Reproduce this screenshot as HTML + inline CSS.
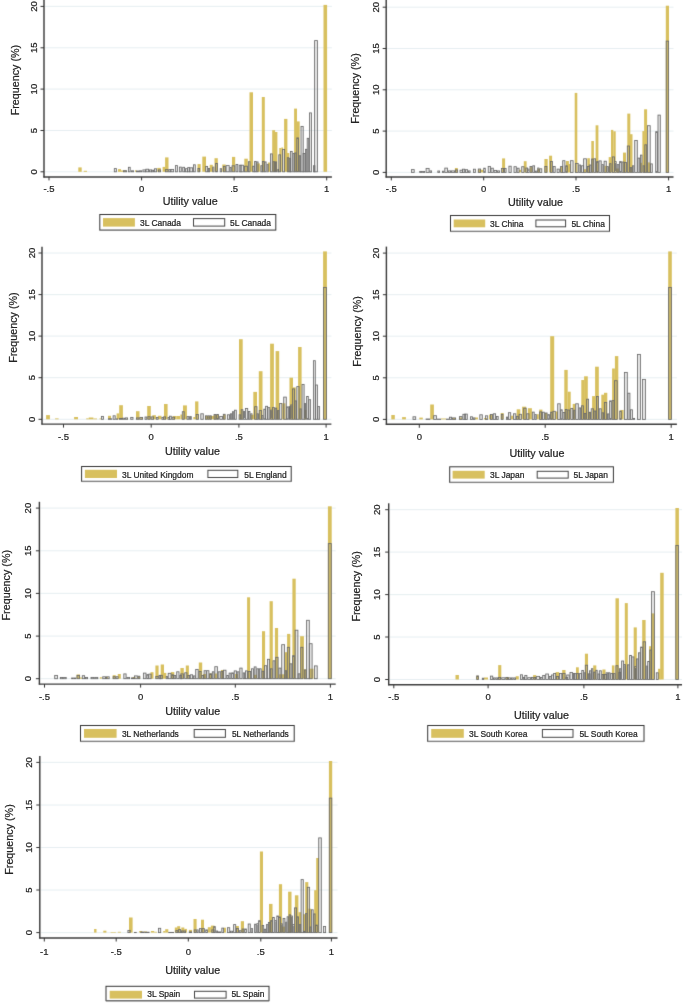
<!DOCTYPE html>
<html><head><meta charset="utf-8"><style>
html,body{margin:0;padding:0;background:#fff;width:685px;height:1003px;overflow:hidden}
svg{display:block;will-change:transform}
text{font-family:"Liberation Sans", sans-serif;stroke:#222;stroke-width:0.22px;paint-order:stroke}
</style></head><body>
<svg width="685" height="1003" viewBox="0 0 685 1003">
<defs><filter id="soft" x="0" y="0" width="685" height="1003" filterUnits="userSpaceOnUse" color-interpolation-filters="sRGB"><feConvolveMatrix order="3" kernelMatrix="0.0144 0.12 0.0144 0.12 1 0.12 0.0144 0.12 0.0144" divisor="1.5376" edgeMode="duplicate"/></filter></defs>
<rect width="685" height="1003" fill="#fff"/>
<g filter="url(#soft)">
<rect width="685" height="1003" fill="#fff"/>
<line x1="45.0" y1="171.8" x2="331.9" y2="171.8" stroke="#e3ecef" stroke-width="0.9"/>
<line x1="45.0" y1="130.5" x2="331.9" y2="130.5" stroke="#e3ecef" stroke-width="0.9"/>
<line x1="45.0" y1="89.1" x2="331.9" y2="89.1" stroke="#e3ecef" stroke-width="0.9"/>
<line x1="45.0" y1="47.8" x2="331.9" y2="47.8" stroke="#e3ecef" stroke-width="0.9"/>
<line x1="45.0" y1="6.4" x2="331.9" y2="6.4" stroke="#e3ecef" stroke-width="0.9"/>
<rect x="78.3" y="167.4" width="3.4" height="4.4" fill="#d8c05f"/>
<rect x="83.7" y="170.8" width="3.3" height="1.0" fill="#d8c05f"/>
<rect x="118.0" y="169.1" width="3.0" height="2.7" fill="#d8c05f"/>
<rect x="121.0" y="170.5" width="5.0" height="1.3" fill="#d8c05f"/>
<rect x="135.0" y="170.3" width="1.5" height="1.5" fill="#d8c05f"/>
<rect x="157.3" y="167.9" width="3.5" height="3.9" fill="#d8c05f"/>
<rect x="162.6" y="166.9" width="2.9" height="4.9" fill="#d8c05f"/>
<rect x="165.1" y="157.4" width="3.4" height="14.4" fill="#d8c05f"/>
<rect x="197.5" y="164.1" width="3.2" height="7.7" fill="#d8c05f"/>
<rect x="202.3" y="156.6" width="3.7" height="15.2" fill="#d8c05f"/>
<rect x="209.7" y="164.8" width="3.1" height="7.0" fill="#d8c05f"/>
<rect x="214.5" y="158.2" width="3.3" height="13.6" fill="#d8c05f"/>
<rect x="222.3" y="164.5" width="3.4" height="7.3" fill="#d8c05f"/>
<rect x="232.0" y="156.9" width="3.2" height="14.9" fill="#d8c05f"/>
<rect x="244.3" y="158.7" width="3.5" height="13.1" fill="#d8c05f"/>
<rect x="249.5" y="92.3" width="3.5" height="79.5" fill="#d8c05f"/>
<rect x="256.6" y="163.4" width="3.3" height="8.4" fill="#d8c05f"/>
<rect x="261.8" y="97.0" width="3.0" height="74.8" fill="#d8c05f"/>
<rect x="268.0" y="162.5" width="2.2" height="9.3" fill="#d8c05f"/>
<rect x="272.2" y="130.2" width="2.9" height="41.6" fill="#d8c05f"/>
<rect x="274.6" y="132.0" width="2.8" height="39.8" fill="#d8c05f"/>
<rect x="279.3" y="148.0" width="2.0" height="23.8" fill="#d8c05f"/>
<rect x="281.3" y="147.5" width="1.8" height="24.3" fill="#d8c05f"/>
<rect x="284.1" y="118.9" width="3.3" height="52.9" fill="#d8c05f"/>
<rect x="286.9" y="153.0" width="2.4" height="18.8" fill="#d8c05f"/>
<rect x="294.1" y="108.6" width="2.9" height="63.2" fill="#d8c05f"/>
<rect x="297.0" y="121.4" width="2.7" height="50.4" fill="#d8c05f"/>
<rect x="323.5" y="4.9" width="3.6" height="166.9" fill="#d8c05f"/>
<rect x="114.3" y="168.6" width="2.1" height="3.2" fill="rgba(140,140,140,0.22)" stroke="#6a6a6a" stroke-width="0.85"/>
<rect x="123.5" y="170.7" width="3.1" height="1.1" fill="rgba(140,140,140,0.22)" stroke="#6a6a6a" stroke-width="0.85"/>
<rect x="128.4" y="167.3" width="1.8" height="4.5" fill="rgba(140,140,140,0.22)" stroke="#6a6a6a" stroke-width="0.85"/>
<rect x="131.4" y="170.8" width="2.2" height="1.0" fill="rgba(140,140,140,0.22)" stroke="#6a6a6a" stroke-width="0.85"/>
<rect x="136.4" y="171.0" width="2.2" height="0.8" fill="rgba(140,140,140,0.22)" stroke="#6a6a6a" stroke-width="0.85"/>
<rect x="139.4" y="170.8" width="2.2" height="1.0" fill="rgba(140,140,140,0.22)" stroke="#6a6a6a" stroke-width="0.85"/>
<rect x="142.9" y="169.9" width="2.7" height="1.9" fill="rgba(140,140,140,0.22)" stroke="#6a6a6a" stroke-width="0.85"/>
<rect x="145.9" y="169.2" width="2.7" height="2.6" fill="rgba(140,140,140,0.22)" stroke="#6a6a6a" stroke-width="0.85"/>
<rect x="149.4" y="169.9" width="2.2" height="1.9" fill="rgba(140,140,140,0.22)" stroke="#6a6a6a" stroke-width="0.85"/>
<rect x="151.9" y="170.2" width="1.7" height="1.6" fill="rgba(140,140,140,0.22)" stroke="#6a6a6a" stroke-width="0.85"/>
<rect x="154.4" y="168.8" width="2.2" height="3.0" fill="rgba(140,140,140,0.22)" stroke="#6a6a6a" stroke-width="0.85"/>
<rect x="158.4" y="169.9" width="2.2" height="1.9" fill="rgba(140,140,140,0.22)" stroke="#6a6a6a" stroke-width="0.85"/>
<rect x="165.4" y="169.6" width="2.7" height="2.2" fill="rgba(140,140,140,0.22)" stroke="#6a6a6a" stroke-width="0.85"/>
<rect x="168.9" y="169.6" width="1.7" height="2.2" fill="rgba(140,140,140,0.22)" stroke="#6a6a6a" stroke-width="0.85"/>
<rect x="171.0" y="169.4" width="2.6" height="2.4" fill="rgba(140,140,140,0.22)" stroke="#6a6a6a" stroke-width="0.85"/>
<rect x="175.4" y="165.6" width="2.0" height="6.2" fill="rgba(140,140,140,0.22)" stroke="#6a6a6a" stroke-width="0.85"/>
<rect x="179.4" y="167.1" width="1.9" height="4.7" fill="rgba(140,140,140,0.22)" stroke="#6a6a6a" stroke-width="0.85"/>
<rect x="182.7" y="167.3" width="1.9" height="4.5" fill="rgba(140,140,140,0.22)" stroke="#6a6a6a" stroke-width="0.85"/>
<rect x="185.4" y="168.7" width="2.2" height="3.1" fill="rgba(140,140,140,0.22)" stroke="#6a6a6a" stroke-width="0.85"/>
<rect x="187.7" y="167.6" width="1.9" height="4.2" fill="rgba(140,140,140,0.22)" stroke="#6a6a6a" stroke-width="0.85"/>
<rect x="189.9" y="167.8" width="2.7" height="4.0" fill="rgba(140,140,140,0.22)" stroke="#6a6a6a" stroke-width="0.85"/>
<rect x="193.5" y="164.8" width="1.8" height="7.0" fill="rgba(140,140,140,0.22)" stroke="#6a6a6a" stroke-width="0.85"/>
<rect x="197.9" y="168.4" width="1.7" height="3.4" fill="rgba(140,140,140,0.22)" stroke="#6a6a6a" stroke-width="0.85"/>
<rect x="205.7" y="166.4" width="1.9" height="5.4" fill="rgba(140,140,140,0.22)" stroke="#6a6a6a" stroke-width="0.85"/>
<rect x="208.4" y="168.4" width="1.2" height="3.4" fill="rgba(140,140,140,0.22)" stroke="#6a6a6a" stroke-width="0.85"/>
<rect x="212.7" y="167.1" width="1.2" height="4.7" fill="rgba(140,140,140,0.22)" stroke="#6a6a6a" stroke-width="0.85"/>
<rect x="215.6" y="163.4" width="1.8" height="8.4" fill="rgba(140,140,140,0.22)" stroke="#6a6a6a" stroke-width="0.85"/>
<rect x="220.2" y="168.7" width="1.4" height="3.1" fill="rgba(140,140,140,0.22)" stroke="#6a6a6a" stroke-width="0.85"/>
<rect x="223.4" y="166.4" width="1.9" height="5.4" fill="rgba(140,140,140,0.22)" stroke="#6a6a6a" stroke-width="0.85"/>
<rect x="226.1" y="165.6" width="3.1" height="6.2" fill="rgba(140,140,140,0.22)" stroke="#6a6a6a" stroke-width="0.85"/>
<rect x="230.0" y="167.4" width="1.2" height="4.4" fill="rgba(140,140,140,0.22)" stroke="#6a6a6a" stroke-width="0.85"/>
<rect x="232.0" y="165.8" width="2.8" height="6.0" fill="rgba(140,140,140,0.22)" stroke="#6a6a6a" stroke-width="0.85"/>
<rect x="236.0" y="164.5" width="1.8" height="7.3" fill="rgba(140,140,140,0.22)" stroke="#6a6a6a" stroke-width="0.85"/>
<rect x="239.2" y="165.2" width="1.9" height="6.6" fill="rgba(140,140,140,0.22)" stroke="#6a6a6a" stroke-width="0.85"/>
<rect x="240.9" y="165.2" width="2.5" height="6.6" fill="rgba(140,140,140,0.22)" stroke="#6a6a6a" stroke-width="0.85"/>
<rect x="244.4" y="166.2" width="3.0" height="5.6" fill="rgba(140,140,140,0.22)" stroke="#6a6a6a" stroke-width="0.85"/>
<rect x="248.4" y="161.7" width="1.6" height="10.1" fill="rgba(140,140,140,0.22)" stroke="#6a6a6a" stroke-width="0.85"/>
<rect x="252.7" y="166.2" width="1.4" height="5.6" fill="rgba(140,140,140,0.22)" stroke="#6a6a6a" stroke-width="0.85"/>
<rect x="254.6" y="161.4" width="1.5" height="10.4" fill="rgba(140,140,140,0.22)" stroke="#6a6a6a" stroke-width="0.85"/>
<rect x="256.7" y="161.9" width="1.4" height="9.9" fill="rgba(140,140,140,0.22)" stroke="#6a6a6a" stroke-width="0.85"/>
<rect x="260.8" y="165.7" width="1.3" height="6.1" fill="rgba(140,140,140,0.22)" stroke="#6a6a6a" stroke-width="0.85"/>
<rect x="262.4" y="161.4" width="1.7" height="10.4" fill="rgba(140,140,140,0.22)" stroke="#6a6a6a" stroke-width="0.85"/>
<rect x="264.7" y="161.9" width="1.4" height="9.9" fill="rgba(140,140,140,0.22)" stroke="#6a6a6a" stroke-width="0.85"/>
<rect x="267.1" y="164.3" width="1.1" height="7.5" fill="rgba(140,140,140,0.22)" stroke="#6a6a6a" stroke-width="0.85"/>
<rect x="270.5" y="153.9" width="1.8" height="17.9" fill="rgba(140,140,140,0.22)" stroke="#6a6a6a" stroke-width="0.85"/>
<rect x="273.1" y="161.7" width="1.5" height="10.1" fill="rgba(140,140,140,0.22)" stroke="#6a6a6a" stroke-width="0.85"/>
<rect x="275.4" y="161.9" width="1.2" height="9.9" fill="rgba(140,140,140,0.22)" stroke="#6a6a6a" stroke-width="0.85"/>
<rect x="277.8" y="169.4" width="0.8" height="2.4" fill="rgba(140,140,140,0.22)" stroke="#6a6a6a" stroke-width="0.85"/>
<rect x="278.8" y="154.8" width="1.8" height="17.0" fill="rgba(140,140,140,0.22)" stroke="#6a6a6a" stroke-width="0.85"/>
<rect x="282.6" y="149.4" width="2.0" height="22.4" fill="rgba(140,140,140,0.22)" stroke="#6a6a6a" stroke-width="0.85"/>
<rect x="287.3" y="157.7" width="1.6" height="14.1" fill="rgba(140,140,140,0.22)" stroke="#6a6a6a" stroke-width="0.85"/>
<rect x="289.2" y="158.6" width="1.4" height="13.2" fill="rgba(140,140,140,0.22)" stroke="#6a6a6a" stroke-width="0.85"/>
<rect x="290.4" y="151.4" width="1.8" height="20.4" fill="rgba(140,140,140,0.22)" stroke="#6a6a6a" stroke-width="0.85"/>
<rect x="293.0" y="153.5" width="1.3" height="18.3" fill="rgba(140,140,140,0.22)" stroke="#6a6a6a" stroke-width="0.85"/>
<rect x="294.8" y="152.9" width="1.4" height="18.9" fill="rgba(140,140,140,0.22)" stroke="#6a6a6a" stroke-width="0.85"/>
<rect x="296.8" y="137.9" width="1.7" height="33.9" fill="rgba(140,140,140,0.22)" stroke="#6a6a6a" stroke-width="0.85"/>
<rect x="299.3" y="155.7" width="1.3" height="16.1" fill="rgba(140,140,140,0.22)" stroke="#6a6a6a" stroke-width="0.85"/>
<rect x="301.0" y="126.4" width="2.2" height="45.4" fill="rgba(140,140,140,0.22)" stroke="#6a6a6a" stroke-width="0.85"/>
<rect x="303.1" y="153.5" width="1.8" height="18.3" fill="rgba(140,140,140,0.22)" stroke="#6a6a6a" stroke-width="0.85"/>
<rect x="305.5" y="149.3" width="1.3" height="22.5" fill="rgba(140,140,140,0.22)" stroke="#6a6a6a" stroke-width="0.85"/>
<rect x="307.2" y="138.3" width="1.5" height="33.5" fill="rgba(140,140,140,0.22)" stroke="#6a6a6a" stroke-width="0.85"/>
<rect x="309.5" y="112.9" width="2.0" height="58.9" fill="rgba(140,140,140,0.22)" stroke="#6a6a6a" stroke-width="0.85"/>
<rect x="313.5" y="165.7" width="1.4" height="6.1" fill="rgba(140,140,140,0.22)" stroke="#6a6a6a" stroke-width="0.85"/>
<rect x="314.6" y="40.6" width="2.8" height="131.2" fill="rgba(140,140,140,0.22)" stroke="#6a6a6a" stroke-width="0.85"/>
<line x1="44.0" y1="0.0" x2="44.0" y2="177.4" stroke="#3c3c3c" stroke-width="1.45"/>
<line x1="40.5" y1="171.8" x2="44.0" y2="171.8" stroke="#333" stroke-width="1"/>
<line x1="40.5" y1="130.5" x2="44.0" y2="130.5" stroke="#333" stroke-width="1"/>
<line x1="40.5" y1="89.1" x2="44.0" y2="89.1" stroke="#333" stroke-width="1"/>
<line x1="40.5" y1="47.8" x2="44.0" y2="47.8" stroke="#333" stroke-width="1"/>
<line x1="40.5" y1="6.4" x2="44.0" y2="6.4" stroke="#333" stroke-width="1"/>
<line x1="43.4" y1="176.9" x2="331.9" y2="176.9" stroke="#3c3c3c" stroke-width="1.45"/>
<line x1="49.0" y1="176.9" x2="49.0" y2="180.4" stroke="#333" stroke-width="1"/>
<line x1="141.6" y1="176.9" x2="141.6" y2="180.4" stroke="#333" stroke-width="1"/>
<line x1="234.1" y1="176.9" x2="234.1" y2="180.4" stroke="#333" stroke-width="1"/>
<line x1="326.7" y1="176.9" x2="326.7" y2="180.4" stroke="#333" stroke-width="1"/>
<rect x="99.8" y="214.5" width="176.0" height="15.6" fill="#fff" stroke="#333" stroke-width="1"/>
<line x1="99.8" y1="230.4" x2="275.8" y2="230.4" stroke="#888" stroke-width="1"/>
<rect x="103.0" y="218.1" width="31.9" height="8.5" fill="#d8c05f"/>
<rect x="193.5" y="218.6" width="31.2" height="7.5" fill="#fff" stroke="#444" stroke-width="1"/>
<line x1="387.2" y1="172.4" x2="673.5" y2="172.4" stroke="#e3ecef" stroke-width="0.9"/>
<line x1="387.2" y1="131.1" x2="673.5" y2="131.1" stroke="#e3ecef" stroke-width="0.9"/>
<line x1="387.2" y1="89.8" x2="673.5" y2="89.8" stroke="#e3ecef" stroke-width="0.9"/>
<line x1="387.2" y1="48.5" x2="673.5" y2="48.5" stroke="#e3ecef" stroke-width="0.9"/>
<line x1="387.2" y1="7.2" x2="673.5" y2="7.2" stroke="#e3ecef" stroke-width="0.9"/>
<rect x="454.9" y="168.0" width="2.9" height="4.4" fill="#d8c05f"/>
<rect x="477.9" y="169.5" width="3.1" height="2.9" fill="#d8c05f"/>
<rect x="480.4" y="169.8" width="2.9" height="2.6" fill="#d8c05f"/>
<rect x="502.1" y="158.4" width="3.0" height="14.0" fill="#d8c05f"/>
<rect x="519.0" y="169.8" width="2.0" height="2.6" fill="#d8c05f"/>
<rect x="523.8" y="161.2" width="2.8" height="11.2" fill="#d8c05f"/>
<rect x="530.0" y="167.1" width="2.4" height="5.3" fill="#d8c05f"/>
<rect x="537.5" y="168.7" width="2.5" height="3.7" fill="#d8c05f"/>
<rect x="544.4" y="159.0" width="3.3" height="13.4" fill="#d8c05f"/>
<rect x="549.1" y="155.7" width="3.0" height="16.7" fill="#d8c05f"/>
<rect x="560.5" y="167.0" width="2.5" height="5.4" fill="#d8c05f"/>
<rect x="565.9" y="161.0" width="3.0" height="11.4" fill="#d8c05f"/>
<rect x="568.0" y="164.0" width="2.5" height="8.4" fill="#d8c05f"/>
<rect x="574.7" y="92.9" width="2.6" height="79.5" fill="#d8c05f"/>
<rect x="584.0" y="169.2" width="2.5" height="3.2" fill="#d8c05f"/>
<rect x="587.3" y="158.2" width="2.6" height="14.2" fill="#d8c05f"/>
<rect x="591.3" y="141.0" width="2.6" height="31.4" fill="#d8c05f"/>
<rect x="595.6" y="125.3" width="2.8" height="47.1" fill="#d8c05f"/>
<rect x="604.5" y="165.9" width="2.5" height="6.5" fill="#d8c05f"/>
<rect x="608.7" y="157.1" width="2.3" height="15.3" fill="#d8c05f"/>
<rect x="611.0" y="129.9" width="2.3" height="42.5" fill="#d8c05f"/>
<rect x="613.3" y="131.3" width="2.4" height="41.1" fill="#d8c05f"/>
<rect x="616.0" y="168.5" width="3.0" height="3.9" fill="#d8c05f"/>
<rect x="623.0" y="152.6" width="3.0" height="19.8" fill="#d8c05f"/>
<rect x="627.3" y="113.6" width="3.0" height="58.8" fill="#d8c05f"/>
<rect x="629.9" y="134.2" width="2.6" height="38.2" fill="#d8c05f"/>
<rect x="640.3" y="162.8" width="1.7" height="9.6" fill="#d8c05f"/>
<rect x="642.4" y="131.1" width="2.2" height="41.3" fill="#d8c05f"/>
<rect x="644.1" y="109.3" width="3.0" height="63.1" fill="#d8c05f"/>
<rect x="647.5" y="162.4" width="2.5" height="10.0" fill="#d8c05f"/>
<rect x="665.8" y="5.7" width="3.2" height="166.7" fill="#d8c05f"/>
<rect x="411.5" y="169.6" width="2.7" height="2.8" fill="rgba(140,140,140,0.22)" stroke="#6a6a6a" stroke-width="0.85"/>
<rect x="419.7" y="171.4" width="2.1" height="1.0" fill="rgba(140,140,140,0.22)" stroke="#6a6a6a" stroke-width="0.85"/>
<rect x="422.6" y="171.4" width="2.1" height="1.0" fill="rgba(140,140,140,0.22)" stroke="#6a6a6a" stroke-width="0.85"/>
<rect x="426.1" y="168.4" width="3.0" height="4.0" fill="rgba(140,140,140,0.22)" stroke="#6a6a6a" stroke-width="0.85"/>
<rect x="429.9" y="170.9" width="1.7" height="1.5" fill="rgba(140,140,140,0.22)" stroke="#6a6a6a" stroke-width="0.85"/>
<rect x="437.8" y="171.0" width="1.8" height="1.4" fill="rgba(140,140,140,0.22)" stroke="#6a6a6a" stroke-width="0.85"/>
<rect x="442.4" y="171.2" width="1.6" height="1.2" fill="rgba(140,140,140,0.22)" stroke="#6a6a6a" stroke-width="0.85"/>
<rect x="444.8" y="168.1" width="2.7" height="4.3" fill="rgba(140,140,140,0.22)" stroke="#6a6a6a" stroke-width="0.85"/>
<rect x="448.3" y="170.9" width="2.3" height="1.5" fill="rgba(140,140,140,0.22)" stroke="#6a6a6a" stroke-width="0.85"/>
<rect x="451.4" y="170.9" width="3.2" height="1.5" fill="rgba(140,140,140,0.22)" stroke="#6a6a6a" stroke-width="0.85"/>
<rect x="455.4" y="169.9" width="2.2" height="2.5" fill="rgba(140,140,140,0.22)" stroke="#6a6a6a" stroke-width="0.85"/>
<rect x="460.0" y="170.2" width="2.7" height="2.2" fill="rgba(140,140,140,0.22)" stroke="#6a6a6a" stroke-width="0.85"/>
<rect x="462.4" y="169.2" width="2.3" height="3.2" fill="rgba(140,140,140,0.22)" stroke="#6a6a6a" stroke-width="0.85"/>
<rect x="465.5" y="169.7" width="2.1" height="2.7" fill="rgba(140,140,140,0.22)" stroke="#6a6a6a" stroke-width="0.85"/>
<rect x="468.4" y="170.9" width="1.7" height="1.5" fill="rgba(140,140,140,0.22)" stroke="#6a6a6a" stroke-width="0.85"/>
<rect x="473.5" y="169.2" width="1.9" height="3.2" fill="rgba(140,140,140,0.22)" stroke="#6a6a6a" stroke-width="0.85"/>
<rect x="478.3" y="169.0" width="2.3" height="3.4" fill="rgba(140,140,140,0.22)" stroke="#6a6a6a" stroke-width="0.85"/>
<rect x="483.7" y="168.2" width="1.6" height="4.2" fill="rgba(140,140,140,0.22)" stroke="#6a6a6a" stroke-width="0.85"/>
<rect x="488.2" y="166.4" width="2.2" height="6.0" fill="rgba(140,140,140,0.22)" stroke="#6a6a6a" stroke-width="0.85"/>
<rect x="491.0" y="168.2" width="2.3" height="4.2" fill="rgba(140,140,140,0.22)" stroke="#6a6a6a" stroke-width="0.85"/>
<rect x="494.1" y="170.4" width="2.5" height="2.0" fill="rgba(140,140,140,0.22)" stroke="#6a6a6a" stroke-width="0.85"/>
<rect x="497.4" y="170.9" width="2.2" height="1.5" fill="rgba(140,140,140,0.22)" stroke="#6a6a6a" stroke-width="0.85"/>
<rect x="501.4" y="168.4" width="2.2" height="4.0" fill="rgba(140,140,140,0.22)" stroke="#6a6a6a" stroke-width="0.85"/>
<rect x="504.4" y="168.4" width="1.7" height="4.0" fill="rgba(140,140,140,0.22)" stroke="#6a6a6a" stroke-width="0.85"/>
<rect x="508.9" y="166.2" width="2.3" height="6.2" fill="rgba(140,140,140,0.22)" stroke="#6a6a6a" stroke-width="0.85"/>
<rect x="514.0" y="166.7" width="2.3" height="5.7" fill="rgba(140,140,140,0.22)" stroke="#6a6a6a" stroke-width="0.85"/>
<rect x="517.1" y="168.2" width="2.0" height="4.2" fill="rgba(140,140,140,0.22)" stroke="#6a6a6a" stroke-width="0.85"/>
<rect x="521.7" y="166.7" width="2.3" height="5.7" fill="rgba(140,140,140,0.22)" stroke="#6a6a6a" stroke-width="0.85"/>
<rect x="525.8" y="168.0" width="1.8" height="4.4" fill="rgba(140,140,140,0.22)" stroke="#6a6a6a" stroke-width="0.85"/>
<rect x="528.0" y="169.1" width="1.0" height="3.3" fill="rgba(140,140,140,0.22)" stroke="#6a6a6a" stroke-width="0.85"/>
<rect x="530.0" y="166.5" width="2.0" height="5.9" fill="rgba(140,140,140,0.22)" stroke="#6a6a6a" stroke-width="0.85"/>
<rect x="532.8" y="165.8" width="1.8" height="6.6" fill="rgba(140,140,140,0.22)" stroke="#6a6a6a" stroke-width="0.85"/>
<rect x="535.4" y="171.1" width="1.7" height="1.3" fill="rgba(140,140,140,0.22)" stroke="#6a6a6a" stroke-width="0.85"/>
<rect x="537.7" y="168.0" width="1.2" height="4.4" fill="rgba(140,140,140,0.22)" stroke="#6a6a6a" stroke-width="0.85"/>
<rect x="539.7" y="168.8" width="2.1" height="3.6" fill="rgba(140,140,140,0.22)" stroke="#6a6a6a" stroke-width="0.85"/>
<rect x="544.8" y="166.5" width="2.1" height="5.9" fill="rgba(140,140,140,0.22)" stroke="#6a6a6a" stroke-width="0.85"/>
<rect x="550.4" y="161.4" width="2.0" height="11.0" fill="rgba(140,140,140,0.22)" stroke="#6a6a6a" stroke-width="0.85"/>
<rect x="553.2" y="166.5" width="2.0" height="5.9" fill="rgba(140,140,140,0.22)" stroke="#6a6a6a" stroke-width="0.85"/>
<rect x="557.1" y="169.1" width="2.2" height="3.3" fill="rgba(140,140,140,0.22)" stroke="#6a6a6a" stroke-width="0.85"/>
<rect x="560.6" y="166.5" width="2.0" height="5.9" fill="rgba(140,140,140,0.22)" stroke="#6a6a6a" stroke-width="0.85"/>
<rect x="562.7" y="160.7" width="2.2" height="11.7" fill="rgba(140,140,140,0.22)" stroke="#6a6a6a" stroke-width="0.85"/>
<rect x="565.7" y="165.8" width="1.6" height="6.6" fill="rgba(140,140,140,0.22)" stroke="#6a6a6a" stroke-width="0.85"/>
<rect x="570.4" y="160.7" width="2.7" height="11.7" fill="rgba(140,140,140,0.22)" stroke="#6a6a6a" stroke-width="0.85"/>
<rect x="575.4" y="163.4" width="2.8" height="9.0" fill="rgba(140,140,140,0.22)" stroke="#6a6a6a" stroke-width="0.85"/>
<rect x="579.0" y="165.0" width="1.6" height="7.4" fill="rgba(140,140,140,0.22)" stroke="#6a6a6a" stroke-width="0.85"/>
<rect x="581.4" y="165.8" width="2.2" height="6.6" fill="rgba(140,140,140,0.22)" stroke="#6a6a6a" stroke-width="0.85"/>
<rect x="583.6" y="158.8" width="2.8" height="13.6" fill="rgba(140,140,140,0.22)" stroke="#6a6a6a" stroke-width="0.85"/>
<rect x="587.4" y="166.5" width="2.2" height="5.9" fill="rgba(140,140,140,0.22)" stroke="#6a6a6a" stroke-width="0.85"/>
<rect x="589.2" y="165.0" width="1.8" height="7.4" fill="rgba(140,140,140,0.22)" stroke="#6a6a6a" stroke-width="0.85"/>
<rect x="591.6" y="159.0" width="1.4" height="13.4" fill="rgba(140,140,140,0.22)" stroke="#6a6a6a" stroke-width="0.85"/>
<rect x="593.8" y="158.8" width="1.8" height="13.6" fill="rgba(140,140,140,0.22)" stroke="#6a6a6a" stroke-width="0.85"/>
<rect x="596.6" y="161.6" width="1.6" height="10.8" fill="rgba(140,140,140,0.22)" stroke="#6a6a6a" stroke-width="0.85"/>
<rect x="599.0" y="160.9" width="2.2" height="11.5" fill="rgba(140,140,140,0.22)" stroke="#6a6a6a" stroke-width="0.85"/>
<rect x="602.0" y="164.6" width="1.3" height="7.8" fill="rgba(140,140,140,0.22)" stroke="#6a6a6a" stroke-width="0.85"/>
<rect x="604.1" y="161.2" width="2.2" height="11.2" fill="rgba(140,140,140,0.22)" stroke="#6a6a6a" stroke-width="0.85"/>
<rect x="607.1" y="166.6" width="1.4" height="5.8" fill="rgba(140,140,140,0.22)" stroke="#6a6a6a" stroke-width="0.85"/>
<rect x="609.4" y="163.7" width="1.6" height="8.7" fill="rgba(140,140,140,0.22)" stroke="#6a6a6a" stroke-width="0.85"/>
<rect x="612.3" y="156.9" width="2.2" height="15.5" fill="rgba(140,140,140,0.22)" stroke="#6a6a6a" stroke-width="0.85"/>
<rect x="615.3" y="161.6" width="0.9" height="10.8" fill="rgba(140,140,140,0.22)" stroke="#6a6a6a" stroke-width="0.85"/>
<rect x="617.2" y="164.6" width="1.6" height="7.8" fill="rgba(140,140,140,0.22)" stroke="#6a6a6a" stroke-width="0.85"/>
<rect x="619.6" y="161.6" width="1.7" height="10.8" fill="rgba(140,140,140,0.22)" stroke="#6a6a6a" stroke-width="0.85"/>
<rect x="622.1" y="162.0" width="1.8" height="10.4" fill="rgba(140,140,140,0.22)" stroke="#6a6a6a" stroke-width="0.85"/>
<rect x="624.5" y="162.4" width="2.0" height="10.0" fill="rgba(140,140,140,0.22)" stroke="#6a6a6a" stroke-width="0.85"/>
<rect x="627.3" y="146.0" width="2.2" height="26.4" fill="rgba(140,140,140,0.22)" stroke="#6a6a6a" stroke-width="0.85"/>
<rect x="630.3" y="167.6" width="1.4" height="4.8" fill="rgba(140,140,140,0.22)" stroke="#6a6a6a" stroke-width="0.85"/>
<rect x="632.5" y="165.8" width="1.4" height="6.6" fill="rgba(140,140,140,0.22)" stroke="#6a6a6a" stroke-width="0.85"/>
<rect x="634.7" y="140.5" width="2.6" height="31.9" fill="rgba(140,140,140,0.22)" stroke="#6a6a6a" stroke-width="0.85"/>
<rect x="637.9" y="158.1" width="1.8" height="14.3" fill="rgba(140,140,140,0.22)" stroke="#6a6a6a" stroke-width="0.85"/>
<rect x="640.5" y="155.1" width="1.5" height="17.3" fill="rgba(140,140,140,0.22)" stroke="#6a6a6a" stroke-width="0.85"/>
<rect x="643.1" y="165.8" width="1.5" height="6.6" fill="rgba(140,140,140,0.22)" stroke="#6a6a6a" stroke-width="0.85"/>
<rect x="644.8" y="144.8" width="1.9" height="27.6" fill="rgba(140,140,140,0.22)" stroke="#6a6a6a" stroke-width="0.85"/>
<rect x="647.5" y="125.7" width="2.7" height="46.7" fill="rgba(140,140,140,0.22)" stroke="#6a6a6a" stroke-width="0.85"/>
<rect x="650.5" y="163.9" width="1.8" height="8.5" fill="rgba(140,140,140,0.22)" stroke="#6a6a6a" stroke-width="0.85"/>
<rect x="655.7" y="131.7" width="1.7" height="40.7" fill="rgba(140,140,140,0.22)" stroke="#6a6a6a" stroke-width="0.85"/>
<rect x="658.0" y="115.1" width="2.3" height="57.3" fill="rgba(140,140,140,0.22)" stroke="#6a6a6a" stroke-width="0.85"/>
<rect x="666.2" y="41.1" width="2.4" height="131.3" fill="rgba(140,140,140,0.22)" stroke="#6a6a6a" stroke-width="0.85"/>
<line x1="386.2" y1="0.0" x2="386.2" y2="177.4" stroke="#3c3c3c" stroke-width="1.45"/>
<line x1="382.7" y1="172.4" x2="386.2" y2="172.4" stroke="#333" stroke-width="1"/>
<line x1="382.7" y1="131.1" x2="386.2" y2="131.1" stroke="#333" stroke-width="1"/>
<line x1="382.7" y1="89.8" x2="386.2" y2="89.8" stroke="#333" stroke-width="1"/>
<line x1="382.7" y1="48.5" x2="386.2" y2="48.5" stroke="#333" stroke-width="1"/>
<line x1="382.7" y1="7.2" x2="386.2" y2="7.2" stroke="#333" stroke-width="1"/>
<line x1="385.6" y1="176.9" x2="673.5" y2="176.9" stroke="#3c3c3c" stroke-width="1.45"/>
<line x1="391.3" y1="176.9" x2="391.3" y2="180.4" stroke="#333" stroke-width="1"/>
<line x1="483.7" y1="176.9" x2="483.7" y2="180.4" stroke="#333" stroke-width="1"/>
<line x1="576.0" y1="176.9" x2="576.0" y2="180.4" stroke="#333" stroke-width="1"/>
<line x1="668.6" y1="176.9" x2="668.6" y2="180.4" stroke="#333" stroke-width="1"/>
<rect x="450.5" y="215.5" width="159.0" height="15.8" fill="#fff" stroke="#333" stroke-width="1"/>
<line x1="450.5" y1="231.6" x2="609.5" y2="231.6" stroke="#888" stroke-width="1"/>
<rect x="453.7" y="219.5" width="31.5" height="7.8" fill="#d8c05f"/>
<rect x="535.9" y="220.0" width="29.7" height="6.8" fill="#fff" stroke="#444" stroke-width="1"/>
<line x1="43.0" y1="419.3" x2="331.4" y2="419.3" stroke="#e3ecef" stroke-width="0.9"/>
<line x1="43.0" y1="377.7" x2="331.4" y2="377.7" stroke="#e3ecef" stroke-width="0.9"/>
<line x1="43.0" y1="336.1" x2="331.4" y2="336.1" stroke="#e3ecef" stroke-width="0.9"/>
<line x1="43.0" y1="294.6" x2="331.4" y2="294.6" stroke="#e3ecef" stroke-width="0.9"/>
<line x1="43.0" y1="253.0" x2="331.4" y2="253.0" stroke="#e3ecef" stroke-width="0.9"/>
<rect x="46.1" y="415.1" width="3.8" height="4.2" fill="#d8c05f"/>
<rect x="55.1" y="418.4" width="3.5" height="0.9" fill="#d8c05f"/>
<rect x="74.1" y="417.0" width="3.9" height="2.3" fill="#d8c05f"/>
<rect x="86.2" y="418.4" width="2.5" height="0.9" fill="#d8c05f"/>
<rect x="88.7" y="417.5" width="2.3" height="1.8" fill="#d8c05f"/>
<rect x="91.0" y="417.5" width="2.4" height="1.8" fill="#d8c05f"/>
<rect x="93.4" y="418.5" width="3.6" height="0.8" fill="#d8c05f"/>
<rect x="99.5" y="418.4" width="1.5" height="0.9" fill="#d8c05f"/>
<rect x="108.0" y="415.8" width="3.0" height="3.5" fill="#d8c05f"/>
<rect x="116.6" y="413.4" width="2.7" height="5.9" fill="#d8c05f"/>
<rect x="119.2" y="405.2" width="3.7" height="14.1" fill="#d8c05f"/>
<rect x="127.0" y="418.0" width="1.0" height="1.3" fill="#d8c05f"/>
<rect x="136.0" y="411.2" width="3.5" height="8.1" fill="#d8c05f"/>
<rect x="140.5" y="417.3" width="2.5" height="2.0" fill="#d8c05f"/>
<rect x="147.2" y="406.0" width="3.6" height="13.3" fill="#d8c05f"/>
<rect x="152.3" y="415.2" width="3.6" height="4.1" fill="#d8c05f"/>
<rect x="157.9" y="415.8" width="3.6" height="3.5" fill="#d8c05f"/>
<rect x="164.0" y="404.0" width="3.6" height="15.3" fill="#d8c05f"/>
<rect x="172.7" y="416.0" width="3.6" height="3.3" fill="#d8c05f"/>
<rect x="176.3" y="416.0" width="3.7" height="3.3" fill="#d8c05f"/>
<rect x="180.4" y="414.5" width="1.6" height="4.8" fill="#d8c05f"/>
<rect x="183.0" y="405.4" width="3.9" height="13.9" fill="#d8c05f"/>
<rect x="193.3" y="417.0" width="1.8" height="2.3" fill="#d8c05f"/>
<rect x="195.1" y="401.4" width="3.3" height="17.9" fill="#d8c05f"/>
<rect x="205.0" y="416.0" width="10.0" height="3.3" fill="#d8c05f"/>
<rect x="213.7" y="415.0" width="5.1" height="4.3" fill="#d8c05f"/>
<rect x="223.0" y="414.5" width="2.5" height="4.8" fill="#d8c05f"/>
<rect x="239.0" y="339.2" width="3.7" height="80.1" fill="#d8c05f"/>
<rect x="251.0" y="414.8" width="3.0" height="4.5" fill="#d8c05f"/>
<rect x="253.3" y="391.9" width="3.7" height="27.4" fill="#d8c05f"/>
<rect x="258.8" y="371.2" width="3.7" height="48.1" fill="#d8c05f"/>
<rect x="270.1" y="343.7" width="3.8" height="75.6" fill="#d8c05f"/>
<rect x="275.6" y="351.1" width="3.6" height="68.2" fill="#d8c05f"/>
<rect x="282.2" y="403.3" width="3.2" height="16.0" fill="#d8c05f"/>
<rect x="289.5" y="377.7" width="3.5" height="41.6" fill="#d8c05f"/>
<rect x="293.0" y="387.4" width="2.8" height="31.9" fill="#d8c05f"/>
<rect x="298.1" y="347.0" width="3.5" height="72.3" fill="#d8c05f"/>
<rect x="304.0" y="409.9" width="2.5" height="9.4" fill="#d8c05f"/>
<rect x="323.1" y="251.4" width="3.8" height="167.9" fill="#d8c05f"/>
<rect x="101.4" y="416.4" width="2.1" height="2.9" fill="rgba(140,140,140,0.22)" stroke="#6a6a6a" stroke-width="0.85"/>
<rect x="108.4" y="418.8" width="3.3" height="0.5" fill="rgba(140,140,140,0.22)" stroke="#6a6a6a" stroke-width="0.85"/>
<rect x="113.1" y="415.8" width="2.1" height="3.5" fill="rgba(140,140,140,0.22)" stroke="#6a6a6a" stroke-width="0.85"/>
<rect x="116.0" y="418.9" width="1.6" height="0.4" fill="rgba(140,140,140,0.22)" stroke="#6a6a6a" stroke-width="0.85"/>
<rect x="119.4" y="418.4" width="2.2" height="0.9" fill="rgba(140,140,140,0.22)" stroke="#6a6a6a" stroke-width="0.85"/>
<rect x="122.4" y="418.2" width="2.2" height="1.1" fill="rgba(140,140,140,0.22)" stroke="#6a6a6a" stroke-width="0.85"/>
<rect x="125.4" y="417.9" width="2.2" height="1.4" fill="rgba(140,140,140,0.22)" stroke="#6a6a6a" stroke-width="0.85"/>
<rect x="130.7" y="417.4" width="2.3" height="1.9" fill="rgba(140,140,140,0.22)" stroke="#6a6a6a" stroke-width="0.85"/>
<rect x="136.4" y="417.9" width="2.7" height="1.4" fill="rgba(140,140,140,0.22)" stroke="#6a6a6a" stroke-width="0.85"/>
<rect x="139.9" y="417.4" width="2.7" height="1.9" fill="rgba(140,140,140,0.22)" stroke="#6a6a6a" stroke-width="0.85"/>
<rect x="145.0" y="417.0" width="1.8" height="2.3" fill="rgba(140,140,140,0.22)" stroke="#6a6a6a" stroke-width="0.85"/>
<rect x="147.9" y="416.7" width="2.2" height="2.6" fill="rgba(140,140,140,0.22)" stroke="#6a6a6a" stroke-width="0.85"/>
<rect x="151.2" y="416.9" width="2.4" height="2.4" fill="rgba(140,140,140,0.22)" stroke="#6a6a6a" stroke-width="0.85"/>
<rect x="156.3" y="417.4" width="1.8" height="1.9" fill="rgba(140,140,140,0.22)" stroke="#6a6a6a" stroke-width="0.85"/>
<rect x="161.9" y="417.4" width="1.2" height="1.9" fill="rgba(140,140,140,0.22)" stroke="#6a6a6a" stroke-width="0.85"/>
<rect x="163.4" y="416.9" width="2.2" height="2.4" fill="rgba(140,140,140,0.22)" stroke="#6a6a6a" stroke-width="0.85"/>
<rect x="168.0" y="417.4" width="1.6" height="1.9" fill="rgba(140,140,140,0.22)" stroke="#6a6a6a" stroke-width="0.85"/>
<rect x="169.5" y="416.2" width="1.8" height="3.1" fill="rgba(140,140,140,0.22)" stroke="#6a6a6a" stroke-width="0.85"/>
<rect x="172.1" y="417.2" width="2.5" height="2.1" fill="rgba(140,140,140,0.22)" stroke="#6a6a6a" stroke-width="0.85"/>
<rect x="182.3" y="411.7" width="1.9" height="7.6" fill="rgba(140,140,140,0.22)" stroke="#6a6a6a" stroke-width="0.85"/>
<rect x="187.0" y="416.6" width="1.8" height="2.7" fill="rgba(140,140,140,0.22)" stroke="#6a6a6a" stroke-width="0.85"/>
<rect x="189.6" y="416.6" width="1.7" height="2.7" fill="rgba(140,140,140,0.22)" stroke="#6a6a6a" stroke-width="0.85"/>
<rect x="196.2" y="414.5" width="2.3" height="4.8" fill="rgba(140,140,140,0.22)" stroke="#6a6a6a" stroke-width="0.85"/>
<rect x="200.8" y="413.8" width="2.5" height="5.5" fill="rgba(140,140,140,0.22)" stroke="#6a6a6a" stroke-width="0.85"/>
<rect x="205.4" y="415.8" width="1.8" height="3.5" fill="rgba(140,140,140,0.22)" stroke="#6a6a6a" stroke-width="0.85"/>
<rect x="208.0" y="415.8" width="1.2" height="3.5" fill="rgba(140,140,140,0.22)" stroke="#6a6a6a" stroke-width="0.85"/>
<rect x="210.0" y="415.8" width="1.3" height="3.5" fill="rgba(140,140,140,0.22)" stroke="#6a6a6a" stroke-width="0.85"/>
<rect x="214.1" y="414.5" width="1.8" height="4.8" fill="rgba(140,140,140,0.22)" stroke="#6a6a6a" stroke-width="0.85"/>
<rect x="216.7" y="414.5" width="1.7" height="4.8" fill="rgba(140,140,140,0.22)" stroke="#6a6a6a" stroke-width="0.85"/>
<rect x="219.7" y="416.5" width="2.8" height="2.8" fill="rgba(140,140,140,0.22)" stroke="#6a6a6a" stroke-width="0.85"/>
<rect x="223.3" y="414.3" width="1.8" height="5.0" fill="rgba(140,140,140,0.22)" stroke="#6a6a6a" stroke-width="0.85"/>
<rect x="227.4" y="414.8" width="2.2" height="4.5" fill="rgba(140,140,140,0.22)" stroke="#6a6a6a" stroke-width="0.85"/>
<rect x="230.4" y="413.8" width="1.3" height="5.5" fill="rgba(140,140,140,0.22)" stroke="#6a6a6a" stroke-width="0.85"/>
<rect x="232.5" y="411.7" width="1.2" height="7.6" fill="rgba(140,140,140,0.22)" stroke="#6a6a6a" stroke-width="0.85"/>
<rect x="234.5" y="410.2" width="1.8" height="9.1" fill="rgba(140,140,140,0.22)" stroke="#6a6a6a" stroke-width="0.85"/>
<rect x="239.1" y="414.8" width="1.6" height="4.5" fill="rgba(140,140,140,0.22)" stroke="#6a6a6a" stroke-width="0.85"/>
<rect x="241.2" y="409.7" width="1.7" height="9.6" fill="rgba(140,140,140,0.22)" stroke="#6a6a6a" stroke-width="0.85"/>
<rect x="243.6" y="411.5" width="1.0" height="7.8" fill="rgba(140,140,140,0.22)" stroke="#6a6a6a" stroke-width="0.85"/>
<rect x="245.4" y="408.5" width="2.3" height="10.8" fill="rgba(140,140,140,0.22)" stroke="#6a6a6a" stroke-width="0.85"/>
<rect x="248.5" y="411.5" width="1.4" height="7.8" fill="rgba(140,140,140,0.22)" stroke="#6a6a6a" stroke-width="0.85"/>
<rect x="250.7" y="413.8" width="1.3" height="5.5" fill="rgba(140,140,140,0.22)" stroke="#6a6a6a" stroke-width="0.85"/>
<rect x="254.6" y="406.7" width="2.4" height="12.6" fill="rgba(140,140,140,0.22)" stroke="#6a6a6a" stroke-width="0.85"/>
<rect x="257.1" y="413.8" width="1.3" height="5.5" fill="rgba(140,140,140,0.22)" stroke="#6a6a6a" stroke-width="0.85"/>
<rect x="259.2" y="410.6" width="2.4" height="8.7" fill="rgba(140,140,140,0.22)" stroke="#6a6a6a" stroke-width="0.85"/>
<rect x="261.7" y="415.6" width="1.3" height="3.7" fill="rgba(140,140,140,0.22)" stroke="#6a6a6a" stroke-width="0.85"/>
<rect x="263.8" y="409.2" width="1.5" height="10.1" fill="rgba(140,140,140,0.22)" stroke="#6a6a6a" stroke-width="0.85"/>
<rect x="265.6" y="406.3" width="2.0" height="13.0" fill="rgba(140,140,140,0.22)" stroke="#6a6a6a" stroke-width="0.85"/>
<rect x="267.9" y="407.6" width="1.9" height="11.7" fill="rgba(140,140,140,0.22)" stroke="#6a6a6a" stroke-width="0.85"/>
<rect x="270.6" y="410.1" width="1.1" height="9.2" fill="rgba(140,140,140,0.22)" stroke="#6a6a6a" stroke-width="0.85"/>
<rect x="272.5" y="407.6" width="1.9" height="11.7" fill="rgba(140,140,140,0.22)" stroke="#6a6a6a" stroke-width="0.85"/>
<rect x="275.2" y="408.1" width="1.5" height="11.2" fill="rgba(140,140,140,0.22)" stroke="#6a6a6a" stroke-width="0.85"/>
<rect x="277.5" y="410.6" width="1.3" height="8.7" fill="rgba(140,140,140,0.22)" stroke="#6a6a6a" stroke-width="0.85"/>
<rect x="279.6" y="403.5" width="2.2" height="15.8" fill="rgba(140,140,140,0.22)" stroke="#6a6a6a" stroke-width="0.85"/>
<rect x="283.7" y="397.1" width="2.6" height="22.2" fill="rgba(140,140,140,0.22)" stroke="#6a6a6a" stroke-width="0.85"/>
<rect x="286.7" y="406.9" width="1.5" height="12.4" fill="rgba(140,140,140,0.22)" stroke="#6a6a6a" stroke-width="0.85"/>
<rect x="289.0" y="406.6" width="0.8" height="12.7" fill="rgba(140,140,140,0.22)" stroke="#6a6a6a" stroke-width="0.85"/>
<rect x="290.6" y="404.9" width="1.2" height="14.4" fill="rgba(140,140,140,0.22)" stroke="#6a6a6a" stroke-width="0.85"/>
<rect x="292.5" y="388.9" width="2.0" height="30.4" fill="rgba(140,140,140,0.22)" stroke="#6a6a6a" stroke-width="0.85"/>
<rect x="295.0" y="400.9" width="1.6" height="18.4" fill="rgba(140,140,140,0.22)" stroke="#6a6a6a" stroke-width="0.85"/>
<rect x="296.8" y="386.6" width="2.3" height="32.7" fill="rgba(140,140,140,0.22)" stroke="#6a6a6a" stroke-width="0.85"/>
<rect x="299.9" y="408.9" width="1.3" height="10.4" fill="rgba(140,140,140,0.22)" stroke="#6a6a6a" stroke-width="0.85"/>
<rect x="302.0" y="384.4" width="2.1" height="34.9" fill="rgba(140,140,140,0.22)" stroke="#6a6a6a" stroke-width="0.85"/>
<rect x="304.5" y="403.4" width="1.0" height="15.9" fill="rgba(140,140,140,0.22)" stroke="#6a6a6a" stroke-width="0.85"/>
<rect x="306.6" y="396.5" width="1.7" height="22.8" fill="rgba(140,140,140,0.22)" stroke="#6a6a6a" stroke-width="0.85"/>
<rect x="308.8" y="399.7" width="1.8" height="19.6" fill="rgba(140,140,140,0.22)" stroke="#6a6a6a" stroke-width="0.85"/>
<rect x="313.4" y="360.7" width="1.9" height="58.6" fill="rgba(140,140,140,0.22)" stroke="#6a6a6a" stroke-width="0.85"/>
<rect x="315.5" y="385.0" width="1.9" height="34.3" fill="rgba(140,140,140,0.22)" stroke="#6a6a6a" stroke-width="0.85"/>
<rect x="317.8" y="406.6" width="1.8" height="12.7" fill="rgba(140,140,140,0.22)" stroke="#6a6a6a" stroke-width="0.85"/>
<rect x="323.5" y="287.4" width="3.0" height="131.9" fill="rgba(140,140,140,0.22)" stroke="#6a6a6a" stroke-width="0.85"/>
<line x1="42.0" y1="246.8" x2="42.0" y2="424.6" stroke="#3c3c3c" stroke-width="1.45"/>
<line x1="38.5" y1="419.3" x2="42.0" y2="419.3" stroke="#333" stroke-width="1"/>
<line x1="38.5" y1="377.7" x2="42.0" y2="377.7" stroke="#333" stroke-width="1"/>
<line x1="38.5" y1="336.1" x2="42.0" y2="336.1" stroke="#333" stroke-width="1"/>
<line x1="38.5" y1="294.6" x2="42.0" y2="294.6" stroke="#333" stroke-width="1"/>
<line x1="38.5" y1="253.0" x2="42.0" y2="253.0" stroke="#333" stroke-width="1"/>
<line x1="41.4" y1="424.1" x2="331.4" y2="424.1" stroke="#3c3c3c" stroke-width="1.45"/>
<line x1="63.5" y1="424.1" x2="63.5" y2="427.6" stroke="#333" stroke-width="1"/>
<line x1="151.2" y1="424.1" x2="151.2" y2="427.6" stroke="#333" stroke-width="1"/>
<line x1="238.9" y1="424.1" x2="238.9" y2="427.6" stroke="#333" stroke-width="1"/>
<line x1="326.1" y1="424.1" x2="326.1" y2="427.6" stroke="#333" stroke-width="1"/>
<rect x="81.6" y="466.5" width="209.6" height="14.8" fill="#fff" stroke="#333" stroke-width="1"/>
<line x1="81.6" y1="481.6" x2="291.2" y2="481.6" stroke="#888" stroke-width="1"/>
<rect x="84.9" y="469.8" width="32.1" height="8.2" fill="#d8c05f"/>
<rect x="207.9" y="470.3" width="29.9" height="7.2" fill="#fff" stroke="#444" stroke-width="1"/>
<line x1="387.4" y1="419.4" x2="676.9" y2="419.4" stroke="#e3ecef" stroke-width="0.9"/>
<line x1="387.4" y1="377.8" x2="676.9" y2="377.8" stroke="#e3ecef" stroke-width="0.9"/>
<line x1="387.4" y1="336.2" x2="676.9" y2="336.2" stroke="#e3ecef" stroke-width="0.9"/>
<line x1="387.4" y1="294.7" x2="676.9" y2="294.7" stroke="#e3ecef" stroke-width="0.9"/>
<line x1="387.4" y1="253.1" x2="676.9" y2="253.1" stroke="#e3ecef" stroke-width="0.9"/>
<rect x="391.3" y="415.0" width="3.5" height="4.4" fill="#d8c05f"/>
<rect x="402.1" y="417.1" width="3.8" height="2.3" fill="#d8c05f"/>
<rect x="419.3" y="417.6" width="3.5" height="1.8" fill="#d8c05f"/>
<rect x="430.2" y="404.5" width="3.7" height="14.9" fill="#d8c05f"/>
<rect x="441.0" y="418.5" width="5.0" height="0.9" fill="#d8c05f"/>
<rect x="452.6" y="418.0" width="3.4" height="1.4" fill="#d8c05f"/>
<rect x="459.0" y="417.5" width="3.0" height="1.9" fill="#d8c05f"/>
<rect x="475.0" y="417.5" width="3.0" height="1.9" fill="#d8c05f"/>
<rect x="484.0" y="418.0" width="3.0" height="1.4" fill="#d8c05f"/>
<rect x="489.1" y="414.7" width="3.1" height="4.7" fill="#d8c05f"/>
<rect x="500.7" y="413.1" width="3.0" height="6.3" fill="#d8c05f"/>
<rect x="511.1" y="415.7" width="2.0" height="3.7" fill="#d8c05f"/>
<rect x="516.7" y="409.3" width="3.6" height="10.1" fill="#d8c05f"/>
<rect x="522.1" y="406.7" width="4.1" height="12.7" fill="#d8c05f"/>
<rect x="527.9" y="408.2" width="4.0" height="11.2" fill="#d8c05f"/>
<rect x="536.9" y="414.2" width="1.9" height="5.2" fill="#d8c05f"/>
<rect x="539.2" y="409.6" width="3.2" height="9.8" fill="#d8c05f"/>
<rect x="544.5" y="413.0" width="2.5" height="6.4" fill="#d8c05f"/>
<rect x="550.2" y="336.2" width="4.0" height="83.2" fill="#d8c05f"/>
<rect x="555.5" y="411.5" width="2.5" height="7.9" fill="#d8c05f"/>
<rect x="564.3" y="369.9" width="3.4" height="49.5" fill="#d8c05f"/>
<rect x="567.7" y="391.7" width="3.0" height="27.7" fill="#d8c05f"/>
<rect x="572.7" y="403.9" width="2.6" height="15.5" fill="#d8c05f"/>
<rect x="581.3" y="380.0" width="3.1" height="39.4" fill="#d8c05f"/>
<rect x="584.1" y="376.3" width="3.7" height="43.1" fill="#d8c05f"/>
<rect x="588.5" y="411.7" width="2.5" height="7.7" fill="#d8c05f"/>
<rect x="592.1" y="396.1" width="3.0" height="23.3" fill="#d8c05f"/>
<rect x="595.1" y="366.7" width="3.7" height="52.7" fill="#d8c05f"/>
<rect x="601.3" y="394.7" width="3.0" height="24.7" fill="#d8c05f"/>
<rect x="604.0" y="392.8" width="3.3" height="26.6" fill="#d8c05f"/>
<rect x="612.1" y="368.5" width="2.8" height="50.9" fill="#d8c05f"/>
<rect x="614.9" y="356.1" width="3.4" height="63.3" fill="#d8c05f"/>
<rect x="620.4" y="410.0" width="3.2" height="9.4" fill="#d8c05f"/>
<rect x="668.2" y="251.4" width="3.6" height="168.0" fill="#d8c05f"/>
<rect x="413.0" y="416.8" width="2.7" height="2.6" fill="rgba(140,140,140,0.22)" stroke="#6a6a6a" stroke-width="0.85"/>
<rect x="426.1" y="419.0" width="1.5" height="0.4" fill="rgba(140,140,140,0.22)" stroke="#6a6a6a" stroke-width="0.85"/>
<rect x="428.4" y="419.0" width="1.4" height="0.4" fill="rgba(140,140,140,0.22)" stroke="#6a6a6a" stroke-width="0.85"/>
<rect x="433.7" y="415.7" width="2.7" height="3.7" fill="rgba(140,140,140,0.22)" stroke="#6a6a6a" stroke-width="0.85"/>
<rect x="437.2" y="419.1" width="1.4" height="0.3" fill="rgba(140,140,140,0.22)" stroke="#6a6a6a" stroke-width="0.85"/>
<rect x="439.4" y="419.1" width="1.2" height="0.3" fill="rgba(140,140,140,0.22)" stroke="#6a6a6a" stroke-width="0.85"/>
<rect x="446.4" y="419.1" width="2.2" height="0.3" fill="rgba(140,140,140,0.22)" stroke="#6a6a6a" stroke-width="0.85"/>
<rect x="449.5" y="417.2" width="2.1" height="2.2" fill="rgba(140,140,140,0.22)" stroke="#6a6a6a" stroke-width="0.85"/>
<rect x="452.4" y="417.9" width="3.2" height="1.5" fill="rgba(140,140,140,0.22)" stroke="#6a6a6a" stroke-width="0.85"/>
<rect x="459.4" y="416.6" width="2.7" height="2.8" fill="rgba(140,140,140,0.22)" stroke="#6a6a6a" stroke-width="0.85"/>
<rect x="462.9" y="414.3" width="2.7" height="5.1" fill="rgba(140,140,140,0.22)" stroke="#6a6a6a" stroke-width="0.85"/>
<rect x="464.7" y="414.1" width="2.6" height="5.3" fill="rgba(140,140,140,0.22)" stroke="#6a6a6a" stroke-width="0.85"/>
<rect x="470.4" y="416.8" width="2.0" height="2.6" fill="rgba(140,140,140,0.22)" stroke="#6a6a6a" stroke-width="0.85"/>
<rect x="473.2" y="417.9" width="1.7" height="1.5" fill="rgba(140,140,140,0.22)" stroke="#6a6a6a" stroke-width="0.85"/>
<rect x="479.8" y="414.8" width="2.5" height="4.6" fill="rgba(140,140,140,0.22)" stroke="#6a6a6a" stroke-width="0.85"/>
<rect x="485.4" y="415.8" width="2.3" height="3.6" fill="rgba(140,140,140,0.22)" stroke="#6a6a6a" stroke-width="0.85"/>
<rect x="490.5" y="414.5" width="2.0" height="4.9" fill="rgba(140,140,140,0.22)" stroke="#6a6a6a" stroke-width="0.85"/>
<rect x="493.3" y="413.8" width="2.3" height="5.6" fill="rgba(140,140,140,0.22)" stroke="#6a6a6a" stroke-width="0.85"/>
<rect x="496.4" y="416.5" width="1.8" height="2.9" fill="rgba(140,140,140,0.22)" stroke="#6a6a6a" stroke-width="0.85"/>
<rect x="501.3" y="414.3" width="1.7" height="5.1" fill="rgba(140,140,140,0.22)" stroke="#6a6a6a" stroke-width="0.85"/>
<rect x="506.4" y="417.1" width="1.2" height="2.3" fill="rgba(140,140,140,0.22)" stroke="#6a6a6a" stroke-width="0.85"/>
<rect x="508.4" y="412.7" width="2.3" height="6.7" fill="rgba(140,140,140,0.22)" stroke="#6a6a6a" stroke-width="0.85"/>
<rect x="513.5" y="413.8" width="2.3" height="5.6" fill="rgba(140,140,140,0.22)" stroke="#6a6a6a" stroke-width="0.85"/>
<rect x="516.4" y="416.3" width="1.9" height="3.1" fill="rgba(140,140,140,0.22)" stroke="#6a6a6a" stroke-width="0.85"/>
<rect x="519.1" y="414.3" width="2.3" height="5.1" fill="rgba(140,140,140,0.22)" stroke="#6a6a6a" stroke-width="0.85"/>
<rect x="523.7" y="408.2" width="2.5" height="11.2" fill="rgba(140,140,140,0.22)" stroke="#6a6a6a" stroke-width="0.85"/>
<rect x="526.8" y="413.8" width="2.2" height="5.6" fill="rgba(140,140,140,0.22)" stroke="#6a6a6a" stroke-width="0.85"/>
<rect x="532.3" y="412.1" width="1.9" height="7.3" fill="rgba(140,140,140,0.22)" stroke="#6a6a6a" stroke-width="0.85"/>
<rect x="535.0" y="414.6" width="1.3" height="4.8" fill="rgba(140,140,140,0.22)" stroke="#6a6a6a" stroke-width="0.85"/>
<rect x="539.6" y="411.9" width="2.0" height="7.5" fill="rgba(140,140,140,0.22)" stroke="#6a6a6a" stroke-width="0.85"/>
<rect x="542.4" y="412.2" width="1.9" height="7.2" fill="rgba(140,140,140,0.22)" stroke="#6a6a6a" stroke-width="0.85"/>
<rect x="545.1" y="413.0" width="2.0" height="6.4" fill="rgba(140,140,140,0.22)" stroke="#6a6a6a" stroke-width="0.85"/>
<rect x="547.9" y="414.6" width="1.5" height="4.8" fill="rgba(140,140,140,0.22)" stroke="#6a6a6a" stroke-width="0.85"/>
<rect x="550.6" y="412.2" width="1.5" height="7.2" fill="rgba(140,140,140,0.22)" stroke="#6a6a6a" stroke-width="0.85"/>
<rect x="552.9" y="411.3" width="2.4" height="8.1" fill="rgba(140,140,140,0.22)" stroke="#6a6a6a" stroke-width="0.85"/>
<rect x="557.7" y="403.8" width="2.5" height="15.6" fill="rgba(140,140,140,0.22)" stroke="#6a6a6a" stroke-width="0.85"/>
<rect x="560.7" y="409.8" width="1.5" height="9.6" fill="rgba(140,140,140,0.22)" stroke="#6a6a6a" stroke-width="0.85"/>
<rect x="563.0" y="412.5" width="1.8" height="6.9" fill="rgba(140,140,140,0.22)" stroke="#6a6a6a" stroke-width="0.85"/>
<rect x="565.3" y="409.5" width="1.7" height="9.9" fill="rgba(140,140,140,0.22)" stroke="#6a6a6a" stroke-width="0.85"/>
<rect x="567.8" y="410.0" width="1.9" height="9.4" fill="rgba(140,140,140,0.22)" stroke="#6a6a6a" stroke-width="0.85"/>
<rect x="570.8" y="408.4" width="2.0" height="11.0" fill="rgba(140,140,140,0.22)" stroke="#6a6a6a" stroke-width="0.85"/>
<rect x="573.6" y="410.2" width="1.3" height="9.2" fill="rgba(140,140,140,0.22)" stroke="#6a6a6a" stroke-width="0.85"/>
<rect x="575.7" y="403.8" width="2.6" height="15.6" fill="rgba(140,140,140,0.22)" stroke="#6a6a6a" stroke-width="0.85"/>
<rect x="579.1" y="407.9" width="1.5" height="11.5" fill="rgba(140,140,140,0.22)" stroke="#6a6a6a" stroke-width="0.85"/>
<rect x="581.5" y="405.8" width="2.0" height="13.6" fill="rgba(140,140,140,0.22)" stroke="#6a6a6a" stroke-width="0.85"/>
<rect x="584.3" y="413.4" width="1.5" height="6.0" fill="rgba(140,140,140,0.22)" stroke="#6a6a6a" stroke-width="0.85"/>
<rect x="586.6" y="399.2" width="2.0" height="20.2" fill="rgba(140,140,140,0.22)" stroke="#6a6a6a" stroke-width="0.85"/>
<rect x="589.1" y="412.5" width="1.3" height="6.9" fill="rgba(140,140,140,0.22)" stroke="#6a6a6a" stroke-width="0.85"/>
<rect x="591.2" y="408.8" width="2.2" height="10.6" fill="rgba(140,140,140,0.22)" stroke="#6a6a6a" stroke-width="0.85"/>
<rect x="594.0" y="411.0" width="1.7" height="8.4" fill="rgba(140,140,140,0.22)" stroke="#6a6a6a" stroke-width="0.85"/>
<rect x="596.5" y="396.5" width="1.9" height="22.9" fill="rgba(140,140,140,0.22)" stroke="#6a6a6a" stroke-width="0.85"/>
<rect x="599.2" y="408.8" width="2.0" height="10.6" fill="rgba(140,140,140,0.22)" stroke="#6a6a6a" stroke-width="0.85"/>
<rect x="602.0" y="412.8" width="1.6" height="6.6" fill="rgba(140,140,140,0.22)" stroke="#6a6a6a" stroke-width="0.85"/>
<rect x="604.4" y="402.4" width="2.3" height="17.0" fill="rgba(140,140,140,0.22)" stroke="#6a6a6a" stroke-width="0.85"/>
<rect x="607.5" y="413.9" width="1.3" height="5.5" fill="rgba(140,140,140,0.22)" stroke="#6a6a6a" stroke-width="0.85"/>
<rect x="609.6" y="400.9" width="1.7" height="18.5" fill="rgba(140,140,140,0.22)" stroke="#6a6a6a" stroke-width="0.85"/>
<rect x="612.1" y="400.6" width="1.9" height="18.8" fill="rgba(140,140,140,0.22)" stroke="#6a6a6a" stroke-width="0.85"/>
<rect x="614.5" y="380.7" width="2.7" height="38.7" fill="rgba(140,140,140,0.22)" stroke="#6a6a6a" stroke-width="0.85"/>
<rect x="619.7" y="411.1" width="1.6" height="8.3" fill="rgba(140,140,140,0.22)" stroke="#6a6a6a" stroke-width="0.85"/>
<rect x="624.4" y="372.4" width="2.9" height="47.0" fill="rgba(140,140,140,0.22)" stroke="#6a6a6a" stroke-width="0.85"/>
<rect x="627.9" y="393.2" width="2.0" height="26.2" fill="rgba(140,140,140,0.22)" stroke="#6a6a6a" stroke-width="0.85"/>
<rect x="630.4" y="409.8" width="2.0" height="9.6" fill="rgba(140,140,140,0.22)" stroke="#6a6a6a" stroke-width="0.85"/>
<rect x="633.2" y="418.4" width="1.4" height="1.0" fill="rgba(140,140,140,0.22)" stroke="#6a6a6a" stroke-width="0.85"/>
<rect x="637.5" y="354.4" width="2.9" height="65.0" fill="rgba(140,140,140,0.22)" stroke="#6a6a6a" stroke-width="0.85"/>
<rect x="642.5" y="379.4" width="2.9" height="40.0" fill="rgba(140,140,140,0.22)" stroke="#6a6a6a" stroke-width="0.85"/>
<rect x="668.6" y="287.4" width="2.8" height="132.0" fill="rgba(140,140,140,0.22)" stroke="#6a6a6a" stroke-width="0.85"/>
<line x1="386.4" y1="246.6" x2="386.4" y2="424.8" stroke="#3c3c3c" stroke-width="1.45"/>
<line x1="382.9" y1="419.4" x2="386.4" y2="419.4" stroke="#333" stroke-width="1"/>
<line x1="382.9" y1="377.8" x2="386.4" y2="377.8" stroke="#333" stroke-width="1"/>
<line x1="382.9" y1="336.2" x2="386.4" y2="336.2" stroke="#333" stroke-width="1"/>
<line x1="382.9" y1="294.7" x2="386.4" y2="294.7" stroke="#333" stroke-width="1"/>
<line x1="382.9" y1="253.1" x2="386.4" y2="253.1" stroke="#333" stroke-width="1"/>
<line x1="385.8" y1="424.3" x2="676.9" y2="424.3" stroke="#3c3c3c" stroke-width="1.45"/>
<line x1="419.3" y1="424.3" x2="419.3" y2="427.8" stroke="#333" stroke-width="1"/>
<line x1="545.2" y1="424.3" x2="545.2" y2="427.8" stroke="#333" stroke-width="1"/>
<line x1="671.2" y1="424.3" x2="671.2" y2="427.8" stroke="#333" stroke-width="1"/>
<rect x="449.7" y="466.8" width="163.7" height="15.5" fill="#fff" stroke="#333" stroke-width="1"/>
<line x1="449.7" y1="482.6" x2="613.4" y2="482.6" stroke="#888" stroke-width="1"/>
<rect x="452.6" y="470.8" width="32.1" height="7.8" fill="#d8c05f"/>
<rect x="537.2" y="471.3" width="31.0" height="6.8" fill="#fff" stroke="#444" stroke-width="1"/>
<line x1="40.4" y1="678.7" x2="335.7" y2="678.7" stroke="#e3ecef" stroke-width="0.9"/>
<line x1="40.4" y1="636.1" x2="335.7" y2="636.1" stroke="#e3ecef" stroke-width="0.9"/>
<line x1="40.4" y1="593.4" x2="335.7" y2="593.4" stroke="#e3ecef" stroke-width="0.9"/>
<line x1="40.4" y1="550.8" x2="335.7" y2="550.8" stroke="#e3ecef" stroke-width="0.9"/>
<line x1="40.4" y1="508.1" x2="335.7" y2="508.1" stroke="#e3ecef" stroke-width="0.9"/>
<rect x="76.6" y="674.5" width="3.4" height="4.2" fill="#d8c05f"/>
<rect x="80.0" y="677.5" width="2.0" height="1.2" fill="#d8c05f"/>
<rect x="99.8" y="677.2" width="2.0" height="1.5" fill="#d8c05f"/>
<rect x="105.0" y="677.0" width="3.0" height="1.7" fill="#d8c05f"/>
<rect x="112.7" y="675.2" width="3.0" height="3.5" fill="#d8c05f"/>
<rect x="117.8" y="674.0" width="3.0" height="4.7" fill="#d8c05f"/>
<rect x="132.6" y="677.0" width="2.9" height="1.7" fill="#d8c05f"/>
<rect x="137.7" y="676.5" width="2.5" height="2.2" fill="#d8c05f"/>
<rect x="150.5" y="672.2" width="3.0" height="6.5" fill="#d8c05f"/>
<rect x="155.4" y="665.5" width="3.2" height="13.2" fill="#d8c05f"/>
<rect x="160.7" y="664.5" width="3.3" height="14.2" fill="#d8c05f"/>
<rect x="163.7" y="672.9" width="2.6" height="5.8" fill="#d8c05f"/>
<rect x="170.9" y="672.1" width="3.4" height="6.6" fill="#d8c05f"/>
<rect x="180.4" y="668.0" width="3.4" height="10.7" fill="#d8c05f"/>
<rect x="185.8" y="665.5" width="3.1" height="13.2" fill="#d8c05f"/>
<rect x="198.8" y="662.5" width="3.4" height="16.2" fill="#d8c05f"/>
<rect x="203.0" y="674.0" width="3.0" height="4.7" fill="#d8c05f"/>
<rect x="209.0" y="673.5" width="3.0" height="5.2" fill="#d8c05f"/>
<rect x="214.4" y="673.5" width="2.6" height="5.2" fill="#d8c05f"/>
<rect x="221.0" y="670.0" width="3.0" height="8.7" fill="#d8c05f"/>
<rect x="235.0" y="674.0" width="3.0" height="4.7" fill="#d8c05f"/>
<rect x="247.1" y="597.3" width="3.0" height="81.4" fill="#d8c05f"/>
<rect x="254.0" y="674.8" width="3.0" height="3.9" fill="#d8c05f"/>
<rect x="262.0" y="631.2" width="3.1" height="47.5" fill="#d8c05f"/>
<rect x="269.6" y="601.2" width="3.2" height="77.5" fill="#d8c05f"/>
<rect x="274.9" y="628.0" width="3.2" height="50.7" fill="#d8c05f"/>
<rect x="279.0" y="674.3" width="3.0" height="4.4" fill="#d8c05f"/>
<rect x="282.0" y="674.3" width="3.0" height="4.4" fill="#d8c05f"/>
<rect x="284.8" y="652.2" width="2.3" height="26.5" fill="#d8c05f"/>
<rect x="287.1" y="633.9" width="3.2" height="44.8" fill="#d8c05f"/>
<rect x="292.4" y="578.7" width="3.3" height="100.0" fill="#d8c05f"/>
<rect x="300.1" y="636.2" width="3.8" height="42.5" fill="#d8c05f"/>
<rect x="303.9" y="669.5" width="2.5" height="9.2" fill="#d8c05f"/>
<rect x="308.9" y="668.7" width="4.6" height="10.0" fill="#d8c05f"/>
<rect x="327.9" y="506.3" width="3.8" height="172.4" fill="#d8c05f"/>
<rect x="54.7" y="675.4" width="2.8" height="3.3" fill="rgba(140,140,140,0.22)" stroke="#6a6a6a" stroke-width="0.85"/>
<rect x="60.3" y="677.5" width="2.5" height="1.2" fill="rgba(140,140,140,0.22)" stroke="#6a6a6a" stroke-width="0.85"/>
<rect x="63.6" y="677.5" width="2.6" height="1.2" fill="rgba(140,140,140,0.22)" stroke="#6a6a6a" stroke-width="0.85"/>
<rect x="71.6" y="678.0" width="1.8" height="0.7" fill="rgba(140,140,140,0.22)" stroke="#6a6a6a" stroke-width="0.85"/>
<rect x="74.2" y="678.0" width="1.7" height="0.7" fill="rgba(140,140,140,0.22)" stroke="#6a6a6a" stroke-width="0.85"/>
<rect x="77.0" y="675.4" width="2.6" height="3.3" fill="rgba(140,140,140,0.22)" stroke="#6a6a6a" stroke-width="0.85"/>
<rect x="82.3" y="675.7" width="2.3" height="3.0" fill="rgba(140,140,140,0.22)" stroke="#6a6a6a" stroke-width="0.85"/>
<rect x="85.4" y="677.4" width="2.2" height="1.3" fill="rgba(140,140,140,0.22)" stroke="#6a6a6a" stroke-width="0.85"/>
<rect x="91.0" y="677.4" width="3.0" height="1.3" fill="rgba(140,140,140,0.22)" stroke="#6a6a6a" stroke-width="0.85"/>
<rect x="94.8" y="677.4" width="3.0" height="1.3" fill="rgba(140,140,140,0.22)" stroke="#6a6a6a" stroke-width="0.85"/>
<rect x="102.7" y="676.8" width="2.9" height="1.9" fill="rgba(140,140,140,0.22)" stroke="#6a6a6a" stroke-width="0.85"/>
<rect x="106.4" y="676.8" width="2.8" height="1.9" fill="rgba(140,140,140,0.22)" stroke="#6a6a6a" stroke-width="0.85"/>
<rect x="113.1" y="676.7" width="2.2" height="2.0" fill="rgba(140,140,140,0.22)" stroke="#6a6a6a" stroke-width="0.85"/>
<rect x="116.1" y="676.7" width="2.0" height="2.0" fill="rgba(140,140,140,0.22)" stroke="#6a6a6a" stroke-width="0.85"/>
<rect x="123.8" y="673.9" width="2.3" height="4.8" fill="rgba(140,140,140,0.22)" stroke="#6a6a6a" stroke-width="0.85"/>
<rect x="126.9" y="677.4" width="2.7" height="1.3" fill="rgba(140,140,140,0.22)" stroke="#6a6a6a" stroke-width="0.85"/>
<rect x="131.4" y="677.9" width="2.2" height="0.8" fill="rgba(140,140,140,0.22)" stroke="#6a6a6a" stroke-width="0.85"/>
<rect x="134.5" y="675.9" width="2.8" height="2.8" fill="rgba(140,140,140,0.22)" stroke="#6a6a6a" stroke-width="0.85"/>
<rect x="138.1" y="676.2" width="1.7" height="2.5" fill="rgba(140,140,140,0.22)" stroke="#6a6a6a" stroke-width="0.85"/>
<rect x="143.4" y="673.1" width="2.6" height="5.6" fill="rgba(140,140,140,0.22)" stroke="#6a6a6a" stroke-width="0.85"/>
<rect x="146.8" y="674.6" width="1.5" height="4.1" fill="rgba(140,140,140,0.22)" stroke="#6a6a6a" stroke-width="0.85"/>
<rect x="148.8" y="674.1" width="2.3" height="4.6" fill="rgba(140,140,140,0.22)" stroke="#6a6a6a" stroke-width="0.85"/>
<rect x="155.8" y="676.4" width="2.4" height="2.3" fill="rgba(140,140,140,0.22)" stroke="#6a6a6a" stroke-width="0.85"/>
<rect x="159.0" y="675.4" width="1.6" height="3.3" fill="rgba(140,140,140,0.22)" stroke="#6a6a6a" stroke-width="0.85"/>
<rect x="160.0" y="675.3" width="2.3" height="3.4" fill="rgba(140,140,140,0.22)" stroke="#6a6a6a" stroke-width="0.85"/>
<rect x="166.2" y="676.4" width="1.2" height="2.3" fill="rgba(140,140,140,0.22)" stroke="#6a6a6a" stroke-width="0.85"/>
<rect x="168.2" y="673.3" width="2.8" height="5.4" fill="rgba(140,140,140,0.22)" stroke="#6a6a6a" stroke-width="0.85"/>
<rect x="171.8" y="674.8" width="1.6" height="3.9" fill="rgba(140,140,140,0.22)" stroke="#6a6a6a" stroke-width="0.85"/>
<rect x="174.0" y="675.4" width="1.7" height="3.3" fill="rgba(140,140,140,0.22)" stroke="#6a6a6a" stroke-width="0.85"/>
<rect x="176.7" y="671.8" width="2.3" height="6.9" fill="rgba(140,140,140,0.22)" stroke="#6a6a6a" stroke-width="0.85"/>
<rect x="179.8" y="675.4" width="1.8" height="3.3" fill="rgba(140,140,140,0.22)" stroke="#6a6a6a" stroke-width="0.85"/>
<rect x="180.8" y="673.9" width="2.6" height="4.8" fill="rgba(140,140,140,0.22)" stroke="#6a6a6a" stroke-width="0.85"/>
<rect x="184.7" y="672.8" width="2.3" height="5.9" fill="rgba(140,140,140,0.22)" stroke="#6a6a6a" stroke-width="0.85"/>
<rect x="187.8" y="675.4" width="1.8" height="3.3" fill="rgba(140,140,140,0.22)" stroke="#6a6a6a" stroke-width="0.85"/>
<rect x="190.3" y="674.8" width="2.3" height="3.9" fill="rgba(140,140,140,0.22)" stroke="#6a6a6a" stroke-width="0.85"/>
<rect x="193.4" y="675.9" width="1.7" height="2.8" fill="rgba(140,140,140,0.22)" stroke="#6a6a6a" stroke-width="0.85"/>
<rect x="195.7" y="669.4" width="2.5" height="9.3" fill="rgba(140,140,140,0.22)" stroke="#6a6a6a" stroke-width="0.85"/>
<rect x="199.0" y="671.5" width="2.1" height="7.2" fill="rgba(140,140,140,0.22)" stroke="#6a6a6a" stroke-width="0.85"/>
<rect x="201.9" y="675.4" width="1.7" height="3.3" fill="rgba(140,140,140,0.22)" stroke="#6a6a6a" stroke-width="0.85"/>
<rect x="204.1" y="670.7" width="2.1" height="8.0" fill="rgba(140,140,140,0.22)" stroke="#6a6a6a" stroke-width="0.85"/>
<rect x="206.7" y="670.7" width="2.2" height="8.0" fill="rgba(140,140,140,0.22)" stroke="#6a6a6a" stroke-width="0.85"/>
<rect x="209.7" y="673.8" width="1.8" height="4.9" fill="rgba(140,140,140,0.22)" stroke="#6a6a6a" stroke-width="0.85"/>
<rect x="212.3" y="671.8" width="1.7" height="6.9" fill="rgba(140,140,140,0.22)" stroke="#6a6a6a" stroke-width="0.85"/>
<rect x="214.8" y="666.7" width="2.6" height="12.0" fill="rgba(140,140,140,0.22)" stroke="#6a6a6a" stroke-width="0.85"/>
<rect x="218.2" y="671.8" width="2.0" height="6.9" fill="rgba(140,140,140,0.22)" stroke="#6a6a6a" stroke-width="0.85"/>
<rect x="221.0" y="671.3" width="1.7" height="7.4" fill="rgba(140,140,140,0.22)" stroke="#6a6a6a" stroke-width="0.85"/>
<rect x="223.5" y="670.2" width="2.5" height="8.5" fill="rgba(140,140,140,0.22)" stroke="#6a6a6a" stroke-width="0.85"/>
<rect x="226.8" y="675.4" width="1.5" height="3.3" fill="rgba(140,140,140,0.22)" stroke="#6a6a6a" stroke-width="0.85"/>
<rect x="229.1" y="673.1" width="1.8" height="5.6" fill="rgba(140,140,140,0.22)" stroke="#6a6a6a" stroke-width="0.85"/>
<rect x="231.7" y="672.9" width="1.7" height="5.8" fill="rgba(140,140,140,0.22)" stroke="#6a6a6a" stroke-width="0.85"/>
<rect x="234.2" y="670.9" width="2.3" height="7.8" fill="rgba(140,140,140,0.22)" stroke="#6a6a6a" stroke-width="0.85"/>
<rect x="237.2" y="671.8" width="1.8" height="6.9" fill="rgba(140,140,140,0.22)" stroke="#6a6a6a" stroke-width="0.85"/>
<rect x="239.8" y="668.1" width="2.3" height="10.6" fill="rgba(140,140,140,0.22)" stroke="#6a6a6a" stroke-width="0.85"/>
<rect x="243.2" y="672.9" width="1.4" height="5.8" fill="rgba(140,140,140,0.22)" stroke="#6a6a6a" stroke-width="0.85"/>
<rect x="245.5" y="670.9" width="1.9" height="7.8" fill="rgba(140,140,140,0.22)" stroke="#6a6a6a" stroke-width="0.85"/>
<rect x="248.2" y="671.5" width="2.4" height="7.2" fill="rgba(140,140,140,0.22)" stroke="#6a6a6a" stroke-width="0.85"/>
<rect x="251.4" y="668.8" width="2.0" height="9.9" fill="rgba(140,140,140,0.22)" stroke="#6a6a6a" stroke-width="0.85"/>
<rect x="254.2" y="666.9" width="1.9" height="11.8" fill="rgba(140,140,140,0.22)" stroke="#6a6a6a" stroke-width="0.85"/>
<rect x="256.9" y="668.8" width="1.7" height="9.9" fill="rgba(140,140,140,0.22)" stroke="#6a6a6a" stroke-width="0.85"/>
<rect x="259.4" y="668.8" width="1.8" height="9.9" fill="rgba(140,140,140,0.22)" stroke="#6a6a6a" stroke-width="0.85"/>
<rect x="262.0" y="671.2" width="1.7" height="7.5" fill="rgba(140,140,140,0.22)" stroke="#6a6a6a" stroke-width="0.85"/>
<rect x="264.5" y="665.7" width="2.2" height="13.0" fill="rgba(140,140,140,0.22)" stroke="#6a6a6a" stroke-width="0.85"/>
<rect x="267.5" y="659.3" width="2.1" height="19.4" fill="rgba(140,140,140,0.22)" stroke="#6a6a6a" stroke-width="0.85"/>
<rect x="270.4" y="668.8" width="1.8" height="9.9" fill="rgba(140,140,140,0.22)" stroke="#6a6a6a" stroke-width="0.85"/>
<rect x="273.0" y="660.8" width="1.9" height="17.9" fill="rgba(140,140,140,0.22)" stroke="#6a6a6a" stroke-width="0.85"/>
<rect x="275.7" y="657.3" width="2.4" height="21.4" fill="rgba(140,140,140,0.22)" stroke="#6a6a6a" stroke-width="0.85"/>
<rect x="278.9" y="668.1" width="2.0" height="10.6" fill="rgba(140,140,140,0.22)" stroke="#6a6a6a" stroke-width="0.85"/>
<rect x="281.7" y="644.7" width="2.9" height="34.0" fill="rgba(140,140,140,0.22)" stroke="#6a6a6a" stroke-width="0.85"/>
<rect x="285.2" y="670.7" width="1.4" height="8.0" fill="rgba(140,140,140,0.22)" stroke="#6a6a6a" stroke-width="0.85"/>
<rect x="287.3" y="647.3" width="2.2" height="31.4" fill="rgba(140,140,140,0.22)" stroke="#6a6a6a" stroke-width="0.85"/>
<rect x="290.0" y="663.8" width="1.8" height="14.9" fill="rgba(140,140,140,0.22)" stroke="#6a6a6a" stroke-width="0.85"/>
<rect x="292.6" y="655.7" width="1.7" height="23.0" fill="rgba(140,140,140,0.22)" stroke="#6a6a6a" stroke-width="0.85"/>
<rect x="295.1" y="630.2" width="2.8" height="48.5" fill="rgba(140,140,140,0.22)" stroke="#6a6a6a" stroke-width="0.85"/>
<rect x="298.2" y="673.8" width="1.7" height="4.9" fill="rgba(140,140,140,0.22)" stroke="#6a6a6a" stroke-width="0.85"/>
<rect x="300.7" y="647.3" width="2.2" height="31.4" fill="rgba(140,140,140,0.22)" stroke="#6a6a6a" stroke-width="0.85"/>
<rect x="304.3" y="669.9" width="1.7" height="8.8" fill="rgba(140,140,140,0.22)" stroke="#6a6a6a" stroke-width="0.85"/>
<rect x="306.6" y="620.3" width="2.7" height="58.4" fill="rgba(140,140,140,0.22)" stroke="#6a6a6a" stroke-width="0.85"/>
<rect x="309.3" y="643.7" width="2.8" height="35.0" fill="rgba(140,140,140,0.22)" stroke="#6a6a6a" stroke-width="0.85"/>
<rect x="314.4" y="665.9" width="2.8" height="12.8" fill="rgba(140,140,140,0.22)" stroke="#6a6a6a" stroke-width="0.85"/>
<rect x="328.3" y="543.6" width="3.0" height="135.1" fill="rgba(140,140,140,0.22)" stroke="#6a6a6a" stroke-width="0.85"/>
<line x1="39.4" y1="501.8" x2="39.4" y2="684.6" stroke="#3c3c3c" stroke-width="1.45"/>
<line x1="35.9" y1="678.7" x2="39.4" y2="678.7" stroke="#333" stroke-width="1"/>
<line x1="35.9" y1="636.1" x2="39.4" y2="636.1" stroke="#333" stroke-width="1"/>
<line x1="35.9" y1="593.4" x2="39.4" y2="593.4" stroke="#333" stroke-width="1"/>
<line x1="35.9" y1="550.8" x2="39.4" y2="550.8" stroke="#333" stroke-width="1"/>
<line x1="35.9" y1="508.1" x2="39.4" y2="508.1" stroke="#333" stroke-width="1"/>
<line x1="38.8" y1="684.1" x2="335.7" y2="684.1" stroke="#3c3c3c" stroke-width="1.45"/>
<line x1="44.5" y1="684.1" x2="44.5" y2="687.6" stroke="#333" stroke-width="1"/>
<line x1="140.6" y1="684.1" x2="140.6" y2="687.6" stroke="#333" stroke-width="1"/>
<line x1="235.3" y1="684.1" x2="235.3" y2="687.6" stroke="#333" stroke-width="1"/>
<line x1="330.4" y1="684.1" x2="330.4" y2="687.6" stroke="#333" stroke-width="1"/>
<rect x="80.5" y="725.5" width="213.7" height="15.8" fill="#fff" stroke="#333" stroke-width="1"/>
<line x1="80.5" y1="741.6" x2="294.2" y2="741.6" stroke="#888" stroke-width="1"/>
<rect x="84.0" y="729.0" width="32.6" height="8.8" fill="#d8c05f"/>
<rect x="194.2" y="729.5" width="31.2" height="7.8" fill="#fff" stroke="#444" stroke-width="1"/>
<line x1="389.7" y1="679.5" x2="682.0" y2="679.5" stroke="#e3ecef" stroke-width="0.9"/>
<line x1="389.7" y1="637.0" x2="682.0" y2="637.0" stroke="#e3ecef" stroke-width="0.9"/>
<line x1="389.7" y1="594.6" x2="682.0" y2="594.6" stroke="#e3ecef" stroke-width="0.9"/>
<line x1="389.7" y1="552.1" x2="682.0" y2="552.1" stroke="#e3ecef" stroke-width="0.9"/>
<line x1="389.7" y1="509.7" x2="682.0" y2="509.7" stroke="#e3ecef" stroke-width="0.9"/>
<rect x="455.5" y="675.0" width="3.4" height="4.5" fill="#d8c05f"/>
<rect x="476.3" y="675.8" width="2.5" height="3.7" fill="#d8c05f"/>
<rect x="484.0" y="677.5" width="4.0" height="2.0" fill="#d8c05f"/>
<rect x="498.2" y="665.1" width="3.1" height="14.4" fill="#d8c05f"/>
<rect x="506.0" y="677.0" width="3.0" height="2.5" fill="#d8c05f"/>
<rect x="515.7" y="676.2" width="3.1" height="3.3" fill="#d8c05f"/>
<rect x="533.1" y="675.1" width="3.1" height="4.4" fill="#d8c05f"/>
<rect x="555.6" y="672.1" width="3.5" height="7.4" fill="#d8c05f"/>
<rect x="562.2" y="670.0" width="3.3" height="9.5" fill="#d8c05f"/>
<rect x="576.0" y="667.3" width="2.8" height="12.2" fill="#d8c05f"/>
<rect x="584.9" y="653.7" width="3.1" height="25.8" fill="#d8c05f"/>
<rect x="593.2" y="665.4" width="3.1" height="14.1" fill="#d8c05f"/>
<rect x="602.4" y="669.5" width="3.1" height="10.0" fill="#d8c05f"/>
<rect x="611.9" y="665.4" width="2.6" height="14.1" fill="#d8c05f"/>
<rect x="615.5" y="598.3" width="3.4" height="81.2" fill="#d8c05f"/>
<rect x="624.8" y="603.1" width="3.0" height="76.4" fill="#d8c05f"/>
<rect x="633.7" y="627.4" width="3.1" height="52.1" fill="#d8c05f"/>
<rect x="642.2" y="620.0" width="3.4" height="59.5" fill="#d8c05f"/>
<rect x="649.1" y="646.2" width="2.3" height="33.3" fill="#d8c05f"/>
<rect x="651.1" y="613.4" width="3.4" height="66.1" fill="#d8c05f"/>
<rect x="658.1" y="668.8" width="2.6" height="10.7" fill="#d8c05f"/>
<rect x="660.2" y="572.8" width="3.5" height="106.7" fill="#d8c05f"/>
<rect x="675.4" y="508.0" width="3.5" height="171.5" fill="#d8c05f"/>
<rect x="476.7" y="675.9" width="1.7" height="3.6" fill="rgba(140,140,140,0.22)" stroke="#6a6a6a" stroke-width="0.85"/>
<rect x="482.3" y="678.2" width="1.4" height="1.3" fill="rgba(140,140,140,0.22)" stroke="#6a6a6a" stroke-width="0.85"/>
<rect x="490.4" y="676.1" width="2.3" height="3.4" fill="rgba(140,140,140,0.22)" stroke="#6a6a6a" stroke-width="0.85"/>
<rect x="493.5" y="677.9" width="1.6" height="1.6" fill="rgba(140,140,140,0.22)" stroke="#6a6a6a" stroke-width="0.85"/>
<rect x="495.9" y="677.9" width="1.7" height="1.6" fill="rgba(140,140,140,0.22)" stroke="#6a6a6a" stroke-width="0.85"/>
<rect x="498.4" y="677.4" width="2.2" height="2.1" fill="rgba(140,140,140,0.22)" stroke="#6a6a6a" stroke-width="0.85"/>
<rect x="501.7" y="677.8" width="3.3" height="1.7" fill="rgba(140,140,140,0.22)" stroke="#6a6a6a" stroke-width="0.85"/>
<rect x="505.8" y="677.4" width="1.8" height="2.1" fill="rgba(140,140,140,0.22)" stroke="#6a6a6a" stroke-width="0.85"/>
<rect x="508.4" y="677.9" width="2.2" height="1.6" fill="rgba(140,140,140,0.22)" stroke="#6a6a6a" stroke-width="0.85"/>
<rect x="511.4" y="677.9" width="1.7" height="1.6" fill="rgba(140,140,140,0.22)" stroke="#6a6a6a" stroke-width="0.85"/>
<rect x="513.9" y="677.9" width="1.7" height="1.6" fill="rgba(140,140,140,0.22)" stroke="#6a6a6a" stroke-width="0.85"/>
<rect x="520.5" y="674.8" width="2.0" height="4.7" fill="rgba(140,140,140,0.22)" stroke="#6a6a6a" stroke-width="0.85"/>
<rect x="523.3" y="677.4" width="1.3" height="2.1" fill="rgba(140,140,140,0.22)" stroke="#6a6a6a" stroke-width="0.85"/>
<rect x="524.8" y="675.5" width="2.1" height="4.0" fill="rgba(140,140,140,0.22)" stroke="#6a6a6a" stroke-width="0.85"/>
<rect x="527.7" y="677.7" width="2.9" height="1.8" fill="rgba(140,140,140,0.22)" stroke="#6a6a6a" stroke-width="0.85"/>
<rect x="531.4" y="677.4" width="1.7" height="2.1" fill="rgba(140,140,140,0.22)" stroke="#6a6a6a" stroke-width="0.85"/>
<rect x="533.9" y="677.4" width="1.7" height="2.1" fill="rgba(140,140,140,0.22)" stroke="#6a6a6a" stroke-width="0.85"/>
<rect x="536.6" y="676.4" width="3.0" height="3.1" fill="rgba(140,140,140,0.22)" stroke="#6a6a6a" stroke-width="0.85"/>
<rect x="540.4" y="677.4" width="1.7" height="2.1" fill="rgba(140,140,140,0.22)" stroke="#6a6a6a" stroke-width="0.85"/>
<rect x="542.7" y="675.5" width="2.2" height="4.0" fill="rgba(140,140,140,0.22)" stroke="#6a6a6a" stroke-width="0.85"/>
<rect x="545.7" y="674.0" width="2.8" height="5.5" fill="rgba(140,140,140,0.22)" stroke="#6a6a6a" stroke-width="0.85"/>
<rect x="549.3" y="676.4" width="1.8" height="3.1" fill="rgba(140,140,140,0.22)" stroke="#6a6a6a" stroke-width="0.85"/>
<rect x="551.4" y="675.0" width="2.0" height="4.5" fill="rgba(140,140,140,0.22)" stroke="#6a6a6a" stroke-width="0.85"/>
<rect x="553.6" y="673.5" width="2.1" height="6.0" fill="rgba(140,140,140,0.22)" stroke="#6a6a6a" stroke-width="0.85"/>
<rect x="556.4" y="676.4" width="2.2" height="3.1" fill="rgba(140,140,140,0.22)" stroke="#6a6a6a" stroke-width="0.85"/>
<rect x="559.5" y="673.5" width="2.3" height="6.0" fill="rgba(140,140,140,0.22)" stroke="#6a6a6a" stroke-width="0.85"/>
<rect x="562.6" y="673.4" width="2.5" height="6.1" fill="rgba(140,140,140,0.22)" stroke="#6a6a6a" stroke-width="0.85"/>
<rect x="565.9" y="677.4" width="1.7" height="2.1" fill="rgba(140,140,140,0.22)" stroke="#6a6a6a" stroke-width="0.85"/>
<rect x="566.7" y="675.0" width="2.5" height="4.5" fill="rgba(140,140,140,0.22)" stroke="#6a6a6a" stroke-width="0.85"/>
<rect x="570.0" y="672.5" width="2.5" height="7.0" fill="rgba(140,140,140,0.22)" stroke="#6a6a6a" stroke-width="0.85"/>
<rect x="573.3" y="673.4" width="1.3" height="6.1" fill="rgba(140,140,140,0.22)" stroke="#6a6a6a" stroke-width="0.85"/>
<rect x="573.9" y="673.6" width="2.2" height="5.9" fill="rgba(140,140,140,0.22)" stroke="#6a6a6a" stroke-width="0.85"/>
<rect x="576.4" y="673.6" width="2.2" height="5.9" fill="rgba(140,140,140,0.22)" stroke="#6a6a6a" stroke-width="0.85"/>
<rect x="579.4" y="673.6" width="2.2" height="5.9" fill="rgba(140,140,140,0.22)" stroke="#6a6a6a" stroke-width="0.85"/>
<rect x="581.8" y="670.5" width="1.6" height="9.0" fill="rgba(140,140,140,0.22)" stroke="#6a6a6a" stroke-width="0.85"/>
<rect x="584.2" y="672.8" width="1.4" height="6.7" fill="rgba(140,140,140,0.22)" stroke="#6a6a6a" stroke-width="0.85"/>
<rect x="585.3" y="665.2" width="2.3" height="14.3" fill="rgba(140,140,140,0.22)" stroke="#6a6a6a" stroke-width="0.85"/>
<rect x="588.4" y="673.8" width="1.7" height="5.7" fill="rgba(140,140,140,0.22)" stroke="#6a6a6a" stroke-width="0.85"/>
<rect x="589.5" y="670.8" width="1.6" height="8.7" fill="rgba(140,140,140,0.22)" stroke="#6a6a6a" stroke-width="0.85"/>
<rect x="591.4" y="668.7" width="1.4" height="10.8" fill="rgba(140,140,140,0.22)" stroke="#6a6a6a" stroke-width="0.85"/>
<rect x="593.6" y="672.1" width="1.4" height="7.4" fill="rgba(140,140,140,0.22)" stroke="#6a6a6a" stroke-width="0.85"/>
<rect x="595.8" y="670.3" width="1.4" height="9.2" fill="rgba(140,140,140,0.22)" stroke="#6a6a6a" stroke-width="0.85"/>
<rect x="598.0" y="674.0" width="1.6" height="5.5" fill="rgba(140,140,140,0.22)" stroke="#6a6a6a" stroke-width="0.85"/>
<rect x="599.3" y="670.8" width="2.0" height="8.7" fill="rgba(140,140,140,0.22)" stroke="#6a6a6a" stroke-width="0.85"/>
<rect x="602.1" y="674.5" width="1.5" height="5.0" fill="rgba(140,140,140,0.22)" stroke="#6a6a6a" stroke-width="0.85"/>
<rect x="604.4" y="674.4" width="2.2" height="5.1" fill="rgba(140,140,140,0.22)" stroke="#6a6a6a" stroke-width="0.85"/>
<rect x="606.1" y="672.8" width="1.6" height="6.7" fill="rgba(140,140,140,0.22)" stroke="#6a6a6a" stroke-width="0.85"/>
<rect x="608.5" y="672.8" width="1.4" height="6.7" fill="rgba(140,140,140,0.22)" stroke="#6a6a6a" stroke-width="0.85"/>
<rect x="610.7" y="673.4" width="1.9" height="6.1" fill="rgba(140,140,140,0.22)" stroke="#6a6a6a" stroke-width="0.85"/>
<rect x="613.4" y="673.6" width="1.7" height="5.9" fill="rgba(140,140,140,0.22)" stroke="#6a6a6a" stroke-width="0.85"/>
<rect x="615.9" y="665.7" width="2.1" height="13.8" fill="rgba(140,140,140,0.22)" stroke="#6a6a6a" stroke-width="0.85"/>
<rect x="618.8" y="672.3" width="1.8" height="7.2" fill="rgba(140,140,140,0.22)" stroke="#6a6a6a" stroke-width="0.85"/>
<rect x="619.5" y="668.7" width="1.3" height="10.8" fill="rgba(140,140,140,0.22)" stroke="#6a6a6a" stroke-width="0.85"/>
<rect x="621.6" y="661.0" width="2.0" height="18.5" fill="rgba(140,140,140,0.22)" stroke="#6a6a6a" stroke-width="0.85"/>
<rect x="624.1" y="664.6" width="1.3" height="14.9" fill="rgba(140,140,140,0.22)" stroke="#6a6a6a" stroke-width="0.85"/>
<rect x="627.5" y="664.8" width="1.5" height="14.7" fill="rgba(140,140,140,0.22)" stroke="#6a6a6a" stroke-width="0.85"/>
<rect x="629.6" y="655.4" width="1.9" height="24.1" fill="rgba(140,140,140,0.22)" stroke="#6a6a6a" stroke-width="0.85"/>
<rect x="631.8" y="656.9" width="2.1" height="22.6" fill="rgba(140,140,140,0.22)" stroke="#6a6a6a" stroke-width="0.85"/>
<rect x="634.7" y="666.6" width="0.9" height="12.9" fill="rgba(140,140,140,0.22)" stroke="#6a6a6a" stroke-width="0.85"/>
<rect x="636.4" y="658.9" width="1.6" height="20.6" fill="rgba(140,140,140,0.22)" stroke="#6a6a6a" stroke-width="0.85"/>
<rect x="638.5" y="652.8" width="1.6" height="26.7" fill="rgba(140,140,140,0.22)" stroke="#6a6a6a" stroke-width="0.85"/>
<rect x="640.6" y="647.1" width="1.7" height="32.4" fill="rgba(140,140,140,0.22)" stroke="#6a6a6a" stroke-width="0.85"/>
<rect x="643.1" y="641.8" width="2.5" height="37.7" fill="rgba(140,140,140,0.22)" stroke="#6a6a6a" stroke-width="0.85"/>
<rect x="646.2" y="666.1" width="1.3" height="13.4" fill="rgba(140,140,140,0.22)" stroke="#6a6a6a" stroke-width="0.85"/>
<rect x="647.7" y="661.5" width="1.8" height="18.0" fill="rgba(140,140,140,0.22)" stroke="#6a6a6a" stroke-width="0.85"/>
<rect x="649.8" y="650.0" width="1.4" height="29.5" fill="rgba(140,140,140,0.22)" stroke="#6a6a6a" stroke-width="0.85"/>
<rect x="651.5" y="591.7" width="2.9" height="87.8" fill="rgba(140,140,140,0.22)" stroke="#6a6a6a" stroke-width="0.85"/>
<rect x="656.3" y="672.8" width="1.9" height="6.7" fill="rgba(140,140,140,0.22)" stroke="#6a6a6a" stroke-width="0.85"/>
<rect x="675.8" y="545.4" width="2.7" height="134.1" fill="rgba(140,140,140,0.22)" stroke="#6a6a6a" stroke-width="0.85"/>
<line x1="388.7" y1="503.3" x2="388.7" y2="685.3" stroke="#3c3c3c" stroke-width="1.45"/>
<line x1="385.2" y1="679.5" x2="388.7" y2="679.5" stroke="#333" stroke-width="1"/>
<line x1="385.2" y1="637.0" x2="388.7" y2="637.0" stroke="#333" stroke-width="1"/>
<line x1="385.2" y1="594.6" x2="388.7" y2="594.6" stroke="#333" stroke-width="1"/>
<line x1="385.2" y1="552.1" x2="388.7" y2="552.1" stroke="#333" stroke-width="1"/>
<line x1="385.2" y1="509.7" x2="388.7" y2="509.7" stroke="#333" stroke-width="1"/>
<line x1="388.1" y1="684.8" x2="682.0" y2="684.8" stroke="#3c3c3c" stroke-width="1.45"/>
<line x1="393.8" y1="684.8" x2="393.8" y2="688.3" stroke="#333" stroke-width="1"/>
<line x1="488.1" y1="684.8" x2="488.1" y2="688.3" stroke="#333" stroke-width="1"/>
<line x1="583.9" y1="684.8" x2="583.9" y2="688.3" stroke="#333" stroke-width="1"/>
<line x1="677.9" y1="684.8" x2="677.9" y2="688.3" stroke="#333" stroke-width="1"/>
<rect x="427.7" y="725.5" width="216.3" height="15.8" fill="#fff" stroke="#333" stroke-width="1"/>
<line x1="427.7" y1="741.6" x2="644.0" y2="741.6" stroke="#888" stroke-width="1"/>
<rect x="431.2" y="729.0" width="32.6" height="8.8" fill="#d8c05f"/>
<rect x="542.4" y="729.5" width="30.6" height="7.8" fill="#fff" stroke="#444" stroke-width="1"/>
<line x1="40.8" y1="932.6" x2="337.5" y2="932.6" stroke="#e3ecef" stroke-width="0.9"/>
<line x1="40.8" y1="890.0" x2="337.5" y2="890.0" stroke="#e3ecef" stroke-width="0.9"/>
<line x1="40.8" y1="847.5" x2="337.5" y2="847.5" stroke="#e3ecef" stroke-width="0.9"/>
<line x1="40.8" y1="805.0" x2="337.5" y2="805.0" stroke="#e3ecef" stroke-width="0.9"/>
<line x1="40.8" y1="762.4" x2="337.5" y2="762.4" stroke="#e3ecef" stroke-width="0.9"/>
<rect x="94.1" y="929.0" width="2.4" height="3.6" fill="#d8c05f"/>
<rect x="103.3" y="930.7" width="3.1" height="1.9" fill="#d8c05f"/>
<rect x="110.6" y="932.0" width="2.6" height="0.6" fill="#d8c05f"/>
<rect x="113.2" y="932.0" width="2.6" height="0.6" fill="#d8c05f"/>
<rect x="117.8" y="931.8" width="3.1" height="0.8" fill="#d8c05f"/>
<rect x="129.0" y="917.5" width="3.6" height="15.1" fill="#d8c05f"/>
<rect x="139.2" y="931.0" width="3.1" height="1.6" fill="#d8c05f"/>
<rect x="144.0" y="931.5" width="3.0" height="1.1" fill="#d8c05f"/>
<rect x="150.9" y="931.0" width="3.3" height="1.6" fill="#d8c05f"/>
<rect x="154.2" y="931.8" width="2.8" height="0.8" fill="#d8c05f"/>
<rect x="163.2" y="931.0" width="2.0" height="1.6" fill="#d8c05f"/>
<rect x="165.2" y="929.2" width="3.1" height="3.4" fill="#d8c05f"/>
<rect x="174.8" y="927.5" width="2.9" height="5.1" fill="#d8c05f"/>
<rect x="177.2" y="926.2" width="3.0" height="6.4" fill="#d8c05f"/>
<rect x="181.3" y="927.5" width="3.0" height="5.1" fill="#d8c05f"/>
<rect x="184.3" y="928.9" width="2.6" height="3.7" fill="#d8c05f"/>
<rect x="188.9" y="929.9" width="3.1" height="2.7" fill="#d8c05f"/>
<rect x="193.5" y="919.0" width="3.1" height="13.6" fill="#d8c05f"/>
<rect x="201.0" y="919.7" width="3.0" height="12.9" fill="#d8c05f"/>
<rect x="207.8" y="927.2" width="3.1" height="5.4" fill="#d8c05f"/>
<rect x="210.9" y="925.6" width="3.6" height="7.0" fill="#d8c05f"/>
<rect x="224.0" y="927.7" width="2.0" height="4.9" fill="#d8c05f"/>
<rect x="235.8" y="926.0" width="3.1" height="6.6" fill="#d8c05f"/>
<rect x="240.8" y="921.2" width="3.2" height="11.4" fill="#d8c05f"/>
<rect x="259.9" y="851.5" width="3.1" height="81.1" fill="#d8c05f"/>
<rect x="269.0" y="903.9" width="3.5" height="28.7" fill="#d8c05f"/>
<rect x="278.9" y="884.2" width="3.2" height="48.4" fill="#d8c05f"/>
<rect x="282.0" y="926.6" width="3.0" height="6.0" fill="#d8c05f"/>
<rect x="288.1" y="891.7" width="3.4" height="40.9" fill="#d8c05f"/>
<rect x="294.9" y="895.3" width="3.5" height="37.3" fill="#d8c05f"/>
<rect x="298.4" y="912.2" width="2.7" height="20.4" fill="#d8c05f"/>
<rect x="303.0" y="914.2" width="2.2" height="18.4" fill="#d8c05f"/>
<rect x="305.2" y="882.1" width="3.1" height="50.5" fill="#d8c05f"/>
<rect x="308.3" y="908.7" width="2.9" height="23.9" fill="#d8c05f"/>
<rect x="314.2" y="890.2" width="3.5" height="42.4" fill="#d8c05f"/>
<rect x="316.2" y="858.0" width="2.8" height="74.6" fill="#d8c05f"/>
<rect x="328.9" y="761.0" width="3.3" height="171.6" fill="#d8c05f"/>
<rect x="127.9" y="930.4" width="2.3" height="2.2" fill="rgba(140,140,140,0.22)" stroke="#6a6a6a" stroke-width="0.85"/>
<rect x="134.5" y="932.4" width="1.8" height="0.2" fill="rgba(140,140,140,0.22)" stroke="#6a6a6a" stroke-width="0.85"/>
<rect x="140.7" y="932.0" width="3.3" height="0.6" fill="rgba(140,140,140,0.22)" stroke="#6a6a6a" stroke-width="0.85"/>
<rect x="144.8" y="932.2" width="1.8" height="0.4" fill="rgba(140,140,140,0.22)" stroke="#6a6a6a" stroke-width="0.85"/>
<rect x="147.4" y="932.2" width="1.7" height="0.4" fill="rgba(140,140,140,0.22)" stroke="#6a6a6a" stroke-width="0.85"/>
<rect x="158.5" y="928.3" width="2.2" height="4.3" fill="rgba(140,140,140,0.22)" stroke="#6a6a6a" stroke-width="0.85"/>
<rect x="168.7" y="932.4" width="1.9" height="0.2" fill="rgba(140,140,140,0.22)" stroke="#6a6a6a" stroke-width="0.85"/>
<rect x="171.4" y="932.4" width="2.2" height="0.2" fill="rgba(140,140,140,0.22)" stroke="#6a6a6a" stroke-width="0.85"/>
<rect x="175.8" y="930.6" width="2.0" height="2.0" fill="rgba(140,140,140,0.22)" stroke="#6a6a6a" stroke-width="0.85"/>
<rect x="178.6" y="929.6" width="2.0" height="3.0" fill="rgba(140,140,140,0.22)" stroke="#6a6a6a" stroke-width="0.85"/>
<rect x="181.4" y="930.9" width="1.7" height="1.7" fill="rgba(140,140,140,0.22)" stroke="#6a6a6a" stroke-width="0.85"/>
<rect x="183.9" y="930.9" width="1.7" height="1.7" fill="rgba(140,140,140,0.22)" stroke="#6a6a6a" stroke-width="0.85"/>
<rect x="189.3" y="931.9" width="2.3" height="0.7" fill="rgba(140,140,140,0.22)" stroke="#6a6a6a" stroke-width="0.85"/>
<rect x="194.2" y="929.9" width="2.0" height="2.7" fill="rgba(140,140,140,0.22)" stroke="#6a6a6a" stroke-width="0.85"/>
<rect x="197.0" y="929.9" width="1.2" height="2.7" fill="rgba(140,140,140,0.22)" stroke="#6a6a6a" stroke-width="0.85"/>
<rect x="199.5" y="928.6" width="1.8" height="4.0" fill="rgba(140,140,140,0.22)" stroke="#6a6a6a" stroke-width="0.85"/>
<rect x="202.1" y="928.6" width="2.3" height="4.0" fill="rgba(140,140,140,0.22)" stroke="#6a6a6a" stroke-width="0.85"/>
<rect x="205.7" y="929.9" width="1.7" height="2.7" fill="rgba(140,140,140,0.22)" stroke="#6a6a6a" stroke-width="0.85"/>
<rect x="211.8" y="929.9" width="2.3" height="2.7" fill="rgba(140,140,140,0.22)" stroke="#6a6a6a" stroke-width="0.85"/>
<rect x="213.7" y="926.6" width="1.6" height="6.0" fill="rgba(140,140,140,0.22)" stroke="#6a6a6a" stroke-width="0.85"/>
<rect x="216.1" y="931.0" width="1.5" height="1.6" fill="rgba(140,140,140,0.22)" stroke="#6a6a6a" stroke-width="0.85"/>
<rect x="218.4" y="931.9" width="2.2" height="0.7" fill="rgba(140,140,140,0.22)" stroke="#6a6a6a" stroke-width="0.85"/>
<rect x="221.8" y="928.1" width="1.8" height="4.5" fill="rgba(140,140,140,0.22)" stroke="#6a6a6a" stroke-width="0.85"/>
<rect x="227.5" y="927.7" width="2.2" height="4.9" fill="rgba(140,140,140,0.22)" stroke="#6a6a6a" stroke-width="0.85"/>
<rect x="230.5" y="931.2" width="2.1" height="1.4" fill="rgba(140,140,140,0.22)" stroke="#6a6a6a" stroke-width="0.85"/>
<rect x="233.6" y="924.6" width="2.1" height="8.0" fill="rgba(140,140,140,0.22)" stroke="#6a6a6a" stroke-width="0.85"/>
<rect x="236.5" y="928.4" width="2.0" height="4.2" fill="rgba(140,140,140,0.22)" stroke="#6a6a6a" stroke-width="0.85"/>
<rect x="239.3" y="930.7" width="1.8" height="1.9" fill="rgba(140,140,140,0.22)" stroke="#6a6a6a" stroke-width="0.85"/>
<rect x="242.1" y="929.0" width="1.8" height="3.6" fill="rgba(140,140,140,0.22)" stroke="#6a6a6a" stroke-width="0.85"/>
<rect x="244.7" y="929.0" width="1.7" height="3.6" fill="rgba(140,140,140,0.22)" stroke="#6a6a6a" stroke-width="0.85"/>
<rect x="248.2" y="924.0" width="2.1" height="8.6" fill="rgba(140,140,140,0.22)" stroke="#6a6a6a" stroke-width="0.85"/>
<rect x="251.1" y="928.6" width="1.5" height="4.0" fill="rgba(140,140,140,0.22)" stroke="#6a6a6a" stroke-width="0.85"/>
<rect x="254.6" y="924.2" width="1.4" height="8.4" fill="rgba(140,140,140,0.22)" stroke="#6a6a6a" stroke-width="0.85"/>
<rect x="256.8" y="923.7" width="1.1" height="8.9" fill="rgba(140,140,140,0.22)" stroke="#6a6a6a" stroke-width="0.85"/>
<rect x="258.6" y="920.7" width="1.6" height="11.9" fill="rgba(140,140,140,0.22)" stroke="#6a6a6a" stroke-width="0.85"/>
<rect x="262.1" y="925.5" width="1.6" height="7.1" fill="rgba(140,140,140,0.22)" stroke="#6a6a6a" stroke-width="0.85"/>
<rect x="264.3" y="929.2" width="1.4" height="3.4" fill="rgba(140,140,140,0.22)" stroke="#6a6a6a" stroke-width="0.85"/>
<rect x="266.4" y="924.6" width="1.5" height="8.0" fill="rgba(140,140,140,0.22)" stroke="#6a6a6a" stroke-width="0.85"/>
<rect x="268.4" y="922.5" width="1.4" height="10.1" fill="rgba(140,140,140,0.22)" stroke="#6a6a6a" stroke-width="0.85"/>
<rect x="270.6" y="920.6" width="1.5" height="12.0" fill="rgba(140,140,140,0.22)" stroke="#6a6a6a" stroke-width="0.85"/>
<rect x="272.6" y="917.4" width="1.7" height="15.2" fill="rgba(140,140,140,0.22)" stroke="#6a6a6a" stroke-width="0.85"/>
<rect x="275.1" y="920.6" width="1.2" height="12.0" fill="rgba(140,140,140,0.22)" stroke="#6a6a6a" stroke-width="0.85"/>
<rect x="276.8" y="916.0" width="1.7" height="16.6" fill="rgba(140,140,140,0.22)" stroke="#6a6a6a" stroke-width="0.85"/>
<rect x="278.7" y="917.0" width="1.7" height="15.6" fill="rgba(140,140,140,0.22)" stroke="#6a6a6a" stroke-width="0.85"/>
<rect x="281.2" y="923.8" width="1.1" height="8.8" fill="rgba(140,140,140,0.22)" stroke="#6a6a6a" stroke-width="0.85"/>
<rect x="283.1" y="918.4" width="1.8" height="14.2" fill="rgba(140,140,140,0.22)" stroke="#6a6a6a" stroke-width="0.85"/>
<rect x="285.7" y="922.2" width="1.1" height="10.4" fill="rgba(140,140,140,0.22)" stroke="#6a6a6a" stroke-width="0.85"/>
<rect x="287.1" y="916.8" width="1.6" height="15.8" fill="rgba(140,140,140,0.22)" stroke="#6a6a6a" stroke-width="0.85"/>
<rect x="289.2" y="914.8" width="1.4" height="17.8" fill="rgba(140,140,140,0.22)" stroke="#6a6a6a" stroke-width="0.85"/>
<rect x="291.4" y="916.0" width="1.1" height="16.6" fill="rgba(140,140,140,0.22)" stroke="#6a6a6a" stroke-width="0.85"/>
<rect x="293.0" y="924.6" width="1.0" height="8.0" fill="rgba(140,140,140,0.22)" stroke="#6a6a6a" stroke-width="0.85"/>
<rect x="294.5" y="907.9" width="2.1" height="24.7" fill="rgba(140,140,140,0.22)" stroke="#6a6a6a" stroke-width="0.85"/>
<rect x="297.0" y="916.8" width="1.5" height="15.8" fill="rgba(140,140,140,0.22)" stroke="#6a6a6a" stroke-width="0.85"/>
<rect x="299.3" y="924.6" width="1.4" height="8.0" fill="rgba(140,140,140,0.22)" stroke="#6a6a6a" stroke-width="0.85"/>
<rect x="301.1" y="879.6" width="2.2" height="53.0" fill="rgba(140,140,140,0.22)" stroke="#6a6a6a" stroke-width="0.85"/>
<rect x="303.4" y="931.3" width="1.2" height="1.3" fill="rgba(140,140,140,0.22)" stroke="#6a6a6a" stroke-width="0.85"/>
<rect x="305.4" y="913.6" width="1.6" height="19.0" fill="rgba(140,140,140,0.22)" stroke="#6a6a6a" stroke-width="0.85"/>
<rect x="307.3" y="887.3" width="2.3" height="45.3" fill="rgba(140,140,140,0.22)" stroke="#6a6a6a" stroke-width="0.85"/>
<rect x="309.7" y="927.0" width="1.3" height="5.6" fill="rgba(140,140,140,0.22)" stroke="#6a6a6a" stroke-width="0.85"/>
<rect x="311.4" y="909.8" width="1.8" height="22.8" fill="rgba(140,140,140,0.22)" stroke="#6a6a6a" stroke-width="0.85"/>
<rect x="313.7" y="913.9" width="1.4" height="18.7" fill="rgba(140,140,140,0.22)" stroke="#6a6a6a" stroke-width="0.85"/>
<rect x="315.6" y="925.1" width="1.7" height="7.5" fill="rgba(140,140,140,0.22)" stroke="#6a6a6a" stroke-width="0.85"/>
<rect x="318.7" y="837.9" width="2.6" height="94.7" fill="rgba(140,140,140,0.22)" stroke="#6a6a6a" stroke-width="0.85"/>
<rect x="323.5" y="926.5" width="2.1" height="6.1" fill="rgba(140,140,140,0.22)" stroke="#6a6a6a" stroke-width="0.85"/>
<rect x="329.3" y="798.1" width="2.5" height="134.5" fill="rgba(140,140,140,0.22)" stroke="#6a6a6a" stroke-width="0.85"/>
<line x1="39.8" y1="756.0" x2="39.8" y2="938.5" stroke="#3c3c3c" stroke-width="1.45"/>
<line x1="36.3" y1="932.6" x2="39.8" y2="932.6" stroke="#333" stroke-width="1"/>
<line x1="36.3" y1="890.0" x2="39.8" y2="890.0" stroke="#333" stroke-width="1"/>
<line x1="36.3" y1="847.5" x2="39.8" y2="847.5" stroke="#333" stroke-width="1"/>
<line x1="36.3" y1="805.0" x2="39.8" y2="805.0" stroke="#333" stroke-width="1"/>
<line x1="36.3" y1="762.4" x2="39.8" y2="762.4" stroke="#333" stroke-width="1"/>
<line x1="39.2" y1="938.0" x2="337.5" y2="938.0" stroke="#3c3c3c" stroke-width="1.45"/>
<line x1="44.3" y1="938.0" x2="44.3" y2="941.5" stroke="#333" stroke-width="1"/>
<line x1="116.2" y1="938.0" x2="116.2" y2="941.5" stroke="#333" stroke-width="1"/>
<line x1="188.3" y1="938.0" x2="188.3" y2="941.5" stroke="#333" stroke-width="1"/>
<line x1="260.8" y1="938.0" x2="260.8" y2="941.5" stroke="#333" stroke-width="1"/>
<line x1="331.4" y1="938.0" x2="331.4" y2="941.5" stroke="#333" stroke-width="1"/>
<rect x="106.0" y="986.3" width="163.0" height="14.4" fill="#fff" stroke="#333" stroke-width="1"/>
<line x1="106.0" y1="1001.0" x2="269.0" y2="1001.0" stroke="#888" stroke-width="1"/>
<rect x="109.7" y="990.8" width="32.3" height="7.8" fill="#d8c05f"/>
<rect x="194.5" y="991.3" width="31.6" height="6.8" fill="#fff" stroke="#444" stroke-width="1"/>
</g>
<g>
<text transform="translate(37.2,171.8) rotate(-90)" text-anchor="middle" font-size="9.5" fill="#222">0</text>
<text transform="translate(37.2,130.5) rotate(-90)" text-anchor="middle" font-size="9.5" fill="#222">5</text>
<text transform="translate(37.2,89.1) rotate(-90)" text-anchor="middle" font-size="9.5" fill="#222">10</text>
<text transform="translate(37.2,47.8) rotate(-90)" text-anchor="middle" font-size="9.5" fill="#222">15</text>
<text transform="translate(37.2,6.4) rotate(-90)" text-anchor="middle" font-size="9.5" fill="#222">20</text>
<text x="49.0" y="192.0" text-anchor="middle" font-size="9.5" fill="#222">-.5</text>
<text x="141.6" y="192.0" text-anchor="middle" font-size="9.5" fill="#222">0</text>
<text x="234.1" y="192.0" text-anchor="middle" font-size="9.5" fill="#222">.5</text>
<text x="326.7" y="192.0" text-anchor="middle" font-size="9.5" fill="#222">1</text>
<text transform="translate(18.9,80.1) rotate(-90)" text-anchor="middle" font-size="10.75" fill="#222">Frequency (%)</text>
<text x="190.2" y="205.4" text-anchor="middle" font-size="10.75" fill="#222">Utility value</text>
<text x="140.0" y="226.2" font-size="8.45" fill="#222">3L Canada</text>
<text x="230.0" y="226.2" font-size="8.45" fill="#222">5L Canada</text>
<text transform="translate(378.8,172.4) rotate(-90)" text-anchor="middle" font-size="9.5" fill="#222">0</text>
<text transform="translate(378.8,131.1) rotate(-90)" text-anchor="middle" font-size="9.5" fill="#222">5</text>
<text transform="translate(378.8,89.8) rotate(-90)" text-anchor="middle" font-size="9.5" fill="#222">10</text>
<text transform="translate(378.8,48.5) rotate(-90)" text-anchor="middle" font-size="9.5" fill="#222">15</text>
<text transform="translate(378.8,7.2) rotate(-90)" text-anchor="middle" font-size="9.5" fill="#222">20</text>
<text x="391.3" y="191.8" text-anchor="middle" font-size="9.5" fill="#222">-.5</text>
<text x="483.7" y="191.8" text-anchor="middle" font-size="9.5" fill="#222">0</text>
<text x="576.0" y="191.8" text-anchor="middle" font-size="9.5" fill="#222">.5</text>
<text x="668.6" y="191.8" text-anchor="middle" font-size="9.5" fill="#222">1</text>
<text transform="translate(359.2,88.5) rotate(-90)" text-anchor="middle" font-size="10.75" fill="#222">Frequency (%)</text>
<text x="535.5" y="205.5" text-anchor="middle" font-size="10.75" fill="#222">Utility value</text>
<text x="490.0" y="227.3" font-size="8.45" fill="#222">3L China</text>
<text x="571.4" y="227.3" font-size="8.45" fill="#222">5L China</text>
<text transform="translate(34.6,419.3) rotate(-90)" text-anchor="middle" font-size="9.5" fill="#222">0</text>
<text transform="translate(34.6,377.7) rotate(-90)" text-anchor="middle" font-size="9.5" fill="#222">5</text>
<text transform="translate(34.6,336.1) rotate(-90)" text-anchor="middle" font-size="9.5" fill="#222">10</text>
<text transform="translate(34.6,294.6) rotate(-90)" text-anchor="middle" font-size="9.5" fill="#222">15</text>
<text transform="translate(34.6,253.0) rotate(-90)" text-anchor="middle" font-size="9.5" fill="#222">20</text>
<text x="63.5" y="439.6" text-anchor="middle" font-size="9.5" fill="#222">-.5</text>
<text x="151.2" y="439.6" text-anchor="middle" font-size="9.5" fill="#222">0</text>
<text x="238.9" y="439.6" text-anchor="middle" font-size="9.5" fill="#222">.5</text>
<text x="326.1" y="439.6" text-anchor="middle" font-size="9.5" fill="#222">1</text>
<text transform="translate(17.2,327.6) rotate(-90)" text-anchor="middle" font-size="10.75" fill="#222">Frequency (%)</text>
<text x="192.4" y="454.6" text-anchor="middle" font-size="10.75" fill="#222">Utility value</text>
<text x="122.0" y="477.8" font-size="8.45" fill="#222">3L United Kingdom</text>
<text x="244.2" y="477.8" font-size="8.45" fill="#222">5L England</text>
<text transform="translate(378.8,419.4) rotate(-90)" text-anchor="middle" font-size="9.5" fill="#222">0</text>
<text transform="translate(378.8,377.8) rotate(-90)" text-anchor="middle" font-size="9.5" fill="#222">5</text>
<text transform="translate(378.8,336.2) rotate(-90)" text-anchor="middle" font-size="9.5" fill="#222">10</text>
<text transform="translate(378.8,294.7) rotate(-90)" text-anchor="middle" font-size="9.5" fill="#222">15</text>
<text transform="translate(378.8,253.1) rotate(-90)" text-anchor="middle" font-size="9.5" fill="#222">20</text>
<text x="419.3" y="440.0" text-anchor="middle" font-size="9.5" fill="#222">0</text>
<text x="545.2" y="440.0" text-anchor="middle" font-size="9.5" fill="#222">.5</text>
<text x="671.2" y="440.0" text-anchor="middle" font-size="9.5" fill="#222">1</text>
<text transform="translate(361.0,331.4) rotate(-90)" text-anchor="middle" font-size="10.75" fill="#222">Frequency (%)</text>
<text x="536.9" y="456.8" text-anchor="middle" font-size="10.75" fill="#222">Utility value</text>
<text x="490.0" y="478.4" font-size="8.45" fill="#222">3L Japan</text>
<text x="573.5" y="478.4" font-size="8.45" fill="#222">5L Japan</text>
<text transform="translate(30.5,678.7) rotate(-90)" text-anchor="middle" font-size="9.5" fill="#222">0</text>
<text transform="translate(30.5,636.1) rotate(-90)" text-anchor="middle" font-size="9.5" fill="#222">5</text>
<text transform="translate(30.5,593.4) rotate(-90)" text-anchor="middle" font-size="9.5" fill="#222">10</text>
<text transform="translate(30.5,550.8) rotate(-90)" text-anchor="middle" font-size="9.5" fill="#222">15</text>
<text transform="translate(30.5,508.1) rotate(-90)" text-anchor="middle" font-size="9.5" fill="#222">20</text>
<text x="44.5" y="699.6" text-anchor="middle" font-size="9.5" fill="#222">-.5</text>
<text x="140.6" y="699.6" text-anchor="middle" font-size="9.5" fill="#222">0</text>
<text x="235.3" y="699.6" text-anchor="middle" font-size="9.5" fill="#222">.5</text>
<text x="330.4" y="699.6" text-anchor="middle" font-size="9.5" fill="#222">1</text>
<text transform="translate(10.0,585.2) rotate(-90)" text-anchor="middle" font-size="10.75" fill="#222">Frequency (%)</text>
<text x="192.7" y="714.5" text-anchor="middle" font-size="10.75" fill="#222">Utility value</text>
<text x="121.9" y="737.3" font-size="8.45" fill="#222">3L Netherlands</text>
<text x="231.9" y="737.3" font-size="8.45" fill="#222">5L Netherlands</text>
<text transform="translate(379.9,679.5) rotate(-90)" text-anchor="middle" font-size="9.5" fill="#222">0</text>
<text transform="translate(379.9,637.0) rotate(-90)" text-anchor="middle" font-size="9.5" fill="#222">5</text>
<text transform="translate(379.9,594.6) rotate(-90)" text-anchor="middle" font-size="9.5" fill="#222">10</text>
<text transform="translate(379.9,552.1) rotate(-90)" text-anchor="middle" font-size="9.5" fill="#222">15</text>
<text transform="translate(379.9,509.7) rotate(-90)" text-anchor="middle" font-size="9.5" fill="#222">20</text>
<text x="393.8" y="700.0" text-anchor="middle" font-size="9.5" fill="#222">-.5</text>
<text x="488.1" y="700.0" text-anchor="middle" font-size="9.5" fill="#222">0</text>
<text x="583.9" y="700.0" text-anchor="middle" font-size="9.5" fill="#222">.5</text>
<text x="677.9" y="700.0" text-anchor="middle" font-size="9.5" fill="#222">1</text>
<text transform="translate(360.2,586.3) rotate(-90)" text-anchor="middle" font-size="10.75" fill="#222">Frequency (%)</text>
<text x="541.6" y="719.1" text-anchor="middle" font-size="10.75" fill="#222">Utility value</text>
<text x="469.0" y="737.3" font-size="8.45" fill="#222">3L South Korea</text>
<text x="579.4" y="737.3" font-size="8.45" fill="#222">5L South Korea</text>
<text transform="translate(32.0,932.6) rotate(-90)" text-anchor="middle" font-size="9.5" fill="#222">0</text>
<text transform="translate(32.0,890.0) rotate(-90)" text-anchor="middle" font-size="9.5" fill="#222">5</text>
<text transform="translate(32.0,847.5) rotate(-90)" text-anchor="middle" font-size="9.5" fill="#222">10</text>
<text transform="translate(32.0,805.0) rotate(-90)" text-anchor="middle" font-size="9.5" fill="#222">15</text>
<text transform="translate(32.0,762.4) rotate(-90)" text-anchor="middle" font-size="9.5" fill="#222">20</text>
<text x="44.3" y="954.5" text-anchor="middle" font-size="9.5" fill="#222">-1</text>
<text x="116.2" y="954.5" text-anchor="middle" font-size="9.5" fill="#222">-.5</text>
<text x="188.3" y="954.5" text-anchor="middle" font-size="9.5" fill="#222">0</text>
<text x="260.8" y="954.5" text-anchor="middle" font-size="9.5" fill="#222">.5</text>
<text x="331.4" y="954.5" text-anchor="middle" font-size="9.5" fill="#222">1</text>
<text transform="translate(13.0,839.5) rotate(-90)" text-anchor="middle" font-size="10.75" fill="#222">Frequency (%)</text>
<text x="192.7" y="974.2" text-anchor="middle" font-size="10.75" fill="#222">Utility value</text>
<text x="147.3" y="997.4" font-size="8.45" fill="#222">3L Spain</text>
<text x="231.4" y="997.4" font-size="8.45" fill="#222">5L Spain</text>
</g>
</svg></body></html>
